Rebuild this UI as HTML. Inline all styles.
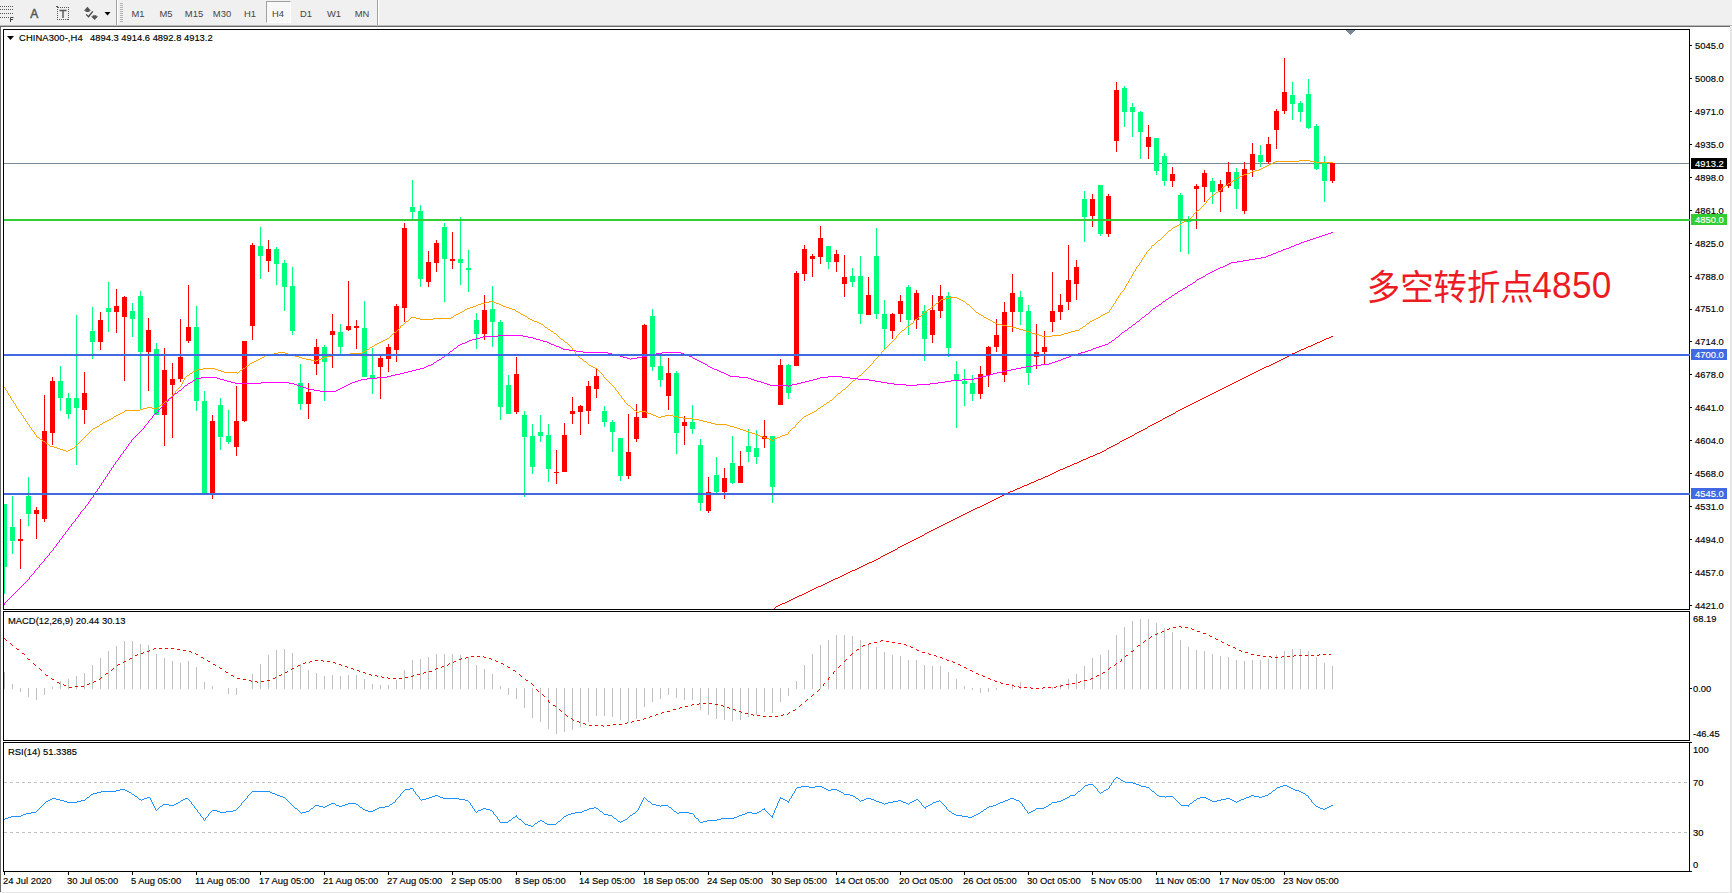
<!DOCTYPE html>
<html><head><meta charset="utf-8"><title>CHINA300 H4</title>
<style>
html,body{margin:0;padding:0;background:#fff;}
body{width:1732px;height:893px;position:relative;overflow:hidden;font-family:"Liberation Sans", sans-serif;}
.t{position:absolute;white-space:nowrap;font-family:"Liberation Sans", sans-serif;}
.b{-webkit-text-stroke:0.15px currentColor;}
.ln{position:absolute;}
#tb{position:absolute;left:0;top:0;width:1732px;height:25px;background:#f0f0f0;}
</style></head><body>
<div id="tb"></div>
<div class="ln" style="left:0;top:25px;width:1732px;height:1px;background:#b9b9b9"></div>
<div class="ln" style="left:0;top:26px;width:1730px;height:1px;background:#6a6a6a"></div>
<div class="ln" style="left:0;top:26px;width:1px;height:867px;background:#696969"></div>
<div class="ln" style="left:1730px;top:27px;width:2px;height:866px;background:#e6e6e6"></div>
<div class="ln" style="left:0;top:891.5px;width:1732px;height:2px;background:#e6e6e6"></div>
<div class="ln" style="left:116px;top:0;width:1px;height:25px;background:#a0a0a0"></div>
<div class="ln" style="left:117px;top:0;width:1px;height:25px;background:#fff"></div>
<div class="ln" style="left:377px;top:0;width:1px;height:25px;background:#a0a0a0"></div>
<div class="ln" style="left:378px;top:0;width:1px;height:25px;background:#fff"></div>
<div class="ln" style="left:120px;top:3px;width:3px;height:19px;background:repeating-linear-gradient(to bottom,#b4b4b4 0,#b4b4b4 1px,#f0f0f0 1px,#f0f0f0 2px)"></div>
<div class="ln" style="left:266px;top:1px;width:25px;height:22px;background:#f8f8f8;border-left:1px solid #a0a0a0;border-top:1px solid #a0a0a0;border-right:1px solid #fff;border-bottom:1px solid #fff;box-sizing:border-box"></div>
<div class="t tf" style="left:124px;top:8px;width:28px;text-align:center;font-size:9.7px;line-height:11px;color:#444;transform:scaleX(0.969)">M1</div>
<div class="t tf" style="left:152px;top:8px;width:28px;text-align:center;font-size:9.7px;line-height:11px;color:#444;transform:scaleX(0.969)">M5</div>
<div class="t tf" style="left:180px;top:8px;width:28px;text-align:center;font-size:9.7px;line-height:11px;color:#444;transform:scaleX(0.969)">M15</div>
<div class="t tf" style="left:208px;top:8px;width:28px;text-align:center;font-size:9.7px;line-height:11px;color:#444;transform:scaleX(0.969)">M30</div>
<div class="t tf" style="left:236px;top:8px;width:28px;text-align:center;font-size:9.7px;line-height:11px;color:#444;transform:scaleX(0.969)">H1</div>
<div class="t tf" style="left:264px;top:8px;width:28px;text-align:center;font-size:9.7px;line-height:11px;color:#444;transform:scaleX(0.969)">H4</div>
<div class="t tf" style="left:292px;top:8px;width:28px;text-align:center;font-size:9.7px;line-height:11px;color:#444;transform:scaleX(0.969)">D1</div>
<div class="t tf" style="left:320px;top:8px;width:28px;text-align:center;font-size:9.7px;line-height:11px;color:#444;transform:scaleX(0.969)">W1</div>
<div class="t tf" style="left:348px;top:8px;width:28px;text-align:center;font-size:9.7px;line-height:11px;color:#444;transform:scaleX(0.969)">MN</div>
<svg width="116" height="25" viewBox="0 0 116 25" style="position:absolute;left:0;top:0">
<g stroke="#555" stroke-width="1" stroke-dasharray="1 1" shape-rendering="crispEdges">
<line x1="0" y1="6.5" x2="13" y2="6.5"/><line x1="0" y1="9.5" x2="13" y2="9.5"/><line x1="0" y1="13.5" x2="13" y2="13.5"/><line x1="0" y1="17.5" x2="10" y2="17.5"/>
</g>
<path d="M10.5 22V17.5H13.5M10.5 19.5H13" stroke="#444" stroke-width="1" fill="none"/>
<rect x="57.5" y="7.5" width="11" height="12" fill="none" stroke="#555" stroke-dasharray="1 1" shape-rendering="crispEdges"/>
<path d="M59.5 10.5H66.5M63 10.5V18" stroke="#555" stroke-width="1.4" fill="none"/>
<polygon points="87.4,6.8 91,10.7 89.4,10.7 89.4,11.9 85.6,11.9 85.6,10.7 83.9,10.7" fill="#555"/>
<polygon points="94.6,20 98.2,16.3 96.4,16.3 96.4,15.2 92.8,15.2 92.8,16.3 91,16.3" fill="#555"/>
<path d="M86.2 14.4L88.5 16.7L92.8 11.3" stroke="#444" stroke-width="1.3" fill="none"/>
<rect x="56" y="6" width="2" height="1" fill="#555"/><rect x="57" y="7" width="2" height="1" fill="#555"/>
<polygon points="104.5,12 110.5,12 107.5,15.5" fill="#000"/>
</svg>
<div class="t" style="left:30.3px;top:7.5px;font-size:12px;line-height:13px;color:#555;-webkit-text-stroke:0.45px #555">A</div>
<svg width="1732" height="893" viewBox="0 0 1732 893" style="position:absolute;left:0;top:0" shape-rendering="crispEdges">
<defs><clipPath id="cm"><rect x="4" y="30" width="1685" height="579"/></clipPath></defs>
<rect x="3.5" y="29.5" width="1686" height="580" fill="none" stroke="#000" stroke-width="1"/>
<rect x="3.5" y="611.5" width="1686" height="129" fill="none" stroke="#000" stroke-width="1"/>
<rect x="3.5" y="742.5" width="1686" height="129" fill="none" stroke="#000" stroke-width="1"/>
<rect x="4" y="163" width="1685" height="1" fill="#778899"/>
<g clip-path="url(#cm)">
<rect x="4" y="504" width="1" height="90" fill="#00ff7f"/>
<rect x="2" y="504" width="5" height="63" fill="#00ff7f"/>
<rect x="12" y="496" width="1" height="58" fill="#00ff7f"/>
<rect x="10" y="527" width="5" height="14" fill="#00ff7f"/>
<rect x="20" y="519" width="1" height="50" fill="#ff0000"/>
<rect x="18" y="539" width="5" height="2" fill="#ff0000"/>
<rect x="28" y="477" width="1" height="49" fill="#00ff7f"/>
<rect x="26" y="496" width="5" height="18" fill="#00ff7f"/>
<rect x="36" y="507" width="1" height="32" fill="#ff0000"/>
<rect x="34" y="510" width="5" height="4" fill="#ff0000"/>
<rect x="44" y="395" width="1" height="127" fill="#ff0000"/>
<rect x="42" y="431" width="5" height="88" fill="#ff0000"/>
<rect x="52" y="377" width="1" height="68" fill="#ff0000"/>
<rect x="50" y="381" width="5" height="52" fill="#ff0000"/>
<rect x="60" y="366" width="1" height="45" fill="#00ff7f"/>
<rect x="58" y="381" width="5" height="17" fill="#00ff7f"/>
<rect x="68" y="393" width="1" height="26" fill="#00ff7f"/>
<rect x="66" y="398" width="5" height="16" fill="#00ff7f"/>
<rect x="76" y="315" width="1" height="150" fill="#00ff7f"/>
<rect x="74" y="398" width="5" height="10" fill="#00ff7f"/>
<rect x="84" y="372" width="1" height="52" fill="#ff0000"/>
<rect x="82" y="393" width="5" height="17" fill="#ff0000"/>
<rect x="92" y="307" width="1" height="52" fill="#00ff7f"/>
<rect x="90" y="331" width="5" height="11" fill="#00ff7f"/>
<rect x="100" y="312" width="1" height="38" fill="#ff0000"/>
<rect x="98" y="320" width="5" height="22" fill="#ff0000"/>
<rect x="108" y="282" width="1" height="50" fill="#00ff7f"/>
<rect x="106" y="308" width="5" height="4" fill="#00ff7f"/>
<rect x="116" y="289" width="1" height="44" fill="#ff0000"/>
<rect x="114" y="306" width="5" height="6" fill="#ff0000"/>
<rect x="124" y="296" width="1" height="85" fill="#ff0000"/>
<rect x="122" y="297" width="5" height="20" fill="#ff0000"/>
<rect x="132" y="303" width="1" height="34" fill="#00ff7f"/>
<rect x="130" y="311" width="5" height="8" fill="#00ff7f"/>
<rect x="140" y="291" width="1" height="118" fill="#00ff7f"/>
<rect x="138" y="296" width="5" height="56" fill="#00ff7f"/>
<rect x="148" y="318" width="1" height="73" fill="#ff0000"/>
<rect x="146" y="330" width="5" height="22" fill="#ff0000"/>
<rect x="156" y="343" width="1" height="72" fill="#00ff7f"/>
<rect x="154" y="349" width="5" height="66" fill="#00ff7f"/>
<rect x="164" y="348" width="1" height="98" fill="#ff0000"/>
<rect x="162" y="370" width="5" height="45" fill="#ff0000"/>
<rect x="172" y="363" width="1" height="75" fill="#ff0000"/>
<rect x="170" y="379" width="5" height="6" fill="#ff0000"/>
<rect x="180" y="319" width="1" height="63" fill="#ff0000"/>
<rect x="178" y="357" width="5" height="22" fill="#ff0000"/>
<rect x="188" y="285" width="1" height="58" fill="#ff0000"/>
<rect x="186" y="327" width="5" height="14" fill="#ff0000"/>
<rect x="196" y="306" width="1" height="105" fill="#00ff7f"/>
<rect x="194" y="327" width="5" height="74" fill="#00ff7f"/>
<rect x="204" y="391" width="1" height="102" fill="#00ff7f"/>
<rect x="202" y="401" width="5" height="92" fill="#00ff7f"/>
<rect x="212" y="415" width="1" height="84" fill="#ff0000"/>
<rect x="210" y="421" width="5" height="72" fill="#ff0000"/>
<rect x="220" y="398" width="1" height="52" fill="#00ff7f"/>
<rect x="218" y="405" width="5" height="32" fill="#00ff7f"/>
<rect x="228" y="410" width="1" height="34" fill="#00ff7f"/>
<rect x="226" y="436" width="5" height="6" fill="#00ff7f"/>
<rect x="236" y="386" width="1" height="70" fill="#ff0000"/>
<rect x="234" y="421" width="5" height="26" fill="#ff0000"/>
<rect x="244" y="341" width="1" height="81" fill="#ff0000"/>
<rect x="242" y="341" width="5" height="80" fill="#ff0000"/>
<rect x="252" y="243" width="1" height="97" fill="#ff0000"/>
<rect x="250" y="245" width="5" height="81" fill="#ff0000"/>
<rect x="260" y="227" width="1" height="52" fill="#00ff7f"/>
<rect x="258" y="246" width="5" height="10" fill="#00ff7f"/>
<rect x="268" y="240" width="1" height="32" fill="#ff0000"/>
<rect x="266" y="249" width="5" height="12" fill="#ff0000"/>
<rect x="276" y="247" width="1" height="38" fill="#00ff7f"/>
<rect x="274" y="249" width="5" height="15" fill="#00ff7f"/>
<rect x="284" y="260" width="1" height="51" fill="#00ff7f"/>
<rect x="282" y="263" width="5" height="24" fill="#00ff7f"/>
<rect x="292" y="267" width="1" height="68" fill="#00ff7f"/>
<rect x="290" y="286" width="5" height="45" fill="#00ff7f"/>
<rect x="300" y="364" width="1" height="46" fill="#00ff7f"/>
<rect x="298" y="383" width="5" height="21" fill="#00ff7f"/>
<rect x="308" y="383" width="1" height="36" fill="#ff0000"/>
<rect x="306" y="392" width="5" height="12" fill="#ff0000"/>
<rect x="316" y="339" width="1" height="36" fill="#ff0000"/>
<rect x="314" y="347" width="5" height="17" fill="#ff0000"/>
<rect x="324" y="345" width="1" height="56" fill="#00ff7f"/>
<rect x="322" y="347" width="5" height="15" fill="#00ff7f"/>
<rect x="332" y="314" width="1" height="54" fill="#ff0000"/>
<rect x="330" y="331" width="5" height="4" fill="#ff0000"/>
<rect x="340" y="324" width="1" height="30" fill="#00ff7f"/>
<rect x="338" y="332" width="5" height="15" fill="#00ff7f"/>
<rect x="348" y="281" width="1" height="50" fill="#ff0000"/>
<rect x="346" y="326" width="5" height="4" fill="#ff0000"/>
<rect x="356" y="320" width="1" height="29" fill="#ff0000"/>
<rect x="354" y="326" width="5" height="2" fill="#ff0000"/>
<rect x="364" y="301" width="1" height="76" fill="#00ff7f"/>
<rect x="362" y="328" width="5" height="49" fill="#00ff7f"/>
<rect x="372" y="348" width="1" height="46" fill="#00ff7f"/>
<rect x="370" y="375" width="5" height="4" fill="#00ff7f"/>
<rect x="380" y="356" width="1" height="43" fill="#ff0000"/>
<rect x="378" y="358" width="5" height="9" fill="#ff0000"/>
<rect x="388" y="344" width="1" height="28" fill="#ff0000"/>
<rect x="386" y="347" width="5" height="12" fill="#ff0000"/>
<rect x="396" y="304" width="1" height="58" fill="#ff0000"/>
<rect x="394" y="306" width="5" height="44" fill="#ff0000"/>
<rect x="404" y="223" width="1" height="99" fill="#ff0000"/>
<rect x="402" y="228" width="5" height="80" fill="#ff0000"/>
<rect x="412" y="180" width="1" height="39" fill="#00ff7f"/>
<rect x="410" y="207" width="5" height="5" fill="#00ff7f"/>
<rect x="420" y="205" width="1" height="82" fill="#00ff7f"/>
<rect x="418" y="211" width="5" height="68" fill="#00ff7f"/>
<rect x="428" y="251" width="1" height="36" fill="#ff0000"/>
<rect x="426" y="262" width="5" height="20" fill="#ff0000"/>
<rect x="436" y="240" width="1" height="32" fill="#ff0000"/>
<rect x="434" y="243" width="5" height="20" fill="#ff0000"/>
<rect x="444" y="223" width="1" height="79" fill="#00ff7f"/>
<rect x="442" y="227" width="5" height="32" fill="#00ff7f"/>
<rect x="452" y="232" width="1" height="37" fill="#ff0000"/>
<rect x="450" y="259" width="5" height="2" fill="#ff0000"/>
<rect x="460" y="217" width="1" height="68" fill="#00ff7f"/>
<rect x="458" y="259" width="5" height="4" fill="#00ff7f"/>
<rect x="468" y="250" width="1" height="42" fill="#00ff7f"/>
<rect x="466" y="268" width="5" height="2" fill="#00ff7f"/>
<rect x="476" y="313" width="1" height="36" fill="#00ff7f"/>
<rect x="474" y="320" width="5" height="14" fill="#00ff7f"/>
<rect x="484" y="295" width="1" height="45" fill="#ff0000"/>
<rect x="482" y="310" width="5" height="24" fill="#ff0000"/>
<rect x="492" y="286" width="1" height="61" fill="#00ff7f"/>
<rect x="490" y="309" width="5" height="13" fill="#00ff7f"/>
<rect x="500" y="320" width="1" height="100" fill="#00ff7f"/>
<rect x="498" y="322" width="5" height="85" fill="#00ff7f"/>
<rect x="508" y="375" width="1" height="39" fill="#00ff7f"/>
<rect x="506" y="385" width="5" height="29" fill="#00ff7f"/>
<rect x="516" y="357" width="1" height="57" fill="#ff0000"/>
<rect x="514" y="374" width="5" height="38" fill="#ff0000"/>
<rect x="524" y="411" width="1" height="86" fill="#00ff7f"/>
<rect x="522" y="415" width="5" height="22" fill="#00ff7f"/>
<rect x="532" y="424" width="1" height="50" fill="#00ff7f"/>
<rect x="530" y="436" width="5" height="31" fill="#00ff7f"/>
<rect x="540" y="415" width="1" height="27" fill="#00ff7f"/>
<rect x="538" y="432" width="5" height="4" fill="#00ff7f"/>
<rect x="548" y="424" width="1" height="58" fill="#00ff7f"/>
<rect x="546" y="435" width="5" height="34" fill="#00ff7f"/>
<rect x="556" y="450" width="1" height="34" fill="#ff0000"/>
<rect x="554" y="472" width="5" height="1" fill="#ff0000"/>
<rect x="564" y="423" width="1" height="49" fill="#ff0000"/>
<rect x="562" y="435" width="5" height="37" fill="#ff0000"/>
<rect x="572" y="397" width="1" height="27" fill="#ff0000"/>
<rect x="570" y="411" width="5" height="3" fill="#ff0000"/>
<rect x="580" y="405" width="1" height="30" fill="#ff0000"/>
<rect x="578" y="406" width="5" height="6" fill="#ff0000"/>
<rect x="588" y="381" width="1" height="43" fill="#ff0000"/>
<rect x="586" y="386" width="5" height="25" fill="#ff0000"/>
<rect x="596" y="368" width="1" height="30" fill="#ff0000"/>
<rect x="594" y="376" width="5" height="13" fill="#ff0000"/>
<rect x="604" y="406" width="1" height="21" fill="#00ff7f"/>
<rect x="602" y="411" width="5" height="11" fill="#00ff7f"/>
<rect x="612" y="420" width="1" height="32" fill="#00ff7f"/>
<rect x="610" y="422" width="5" height="10" fill="#00ff7f"/>
<rect x="620" y="438" width="1" height="43" fill="#00ff7f"/>
<rect x="618" y="438" width="5" height="38" fill="#00ff7f"/>
<rect x="628" y="414" width="1" height="65" fill="#ff0000"/>
<rect x="626" y="452" width="5" height="24" fill="#ff0000"/>
<rect x="636" y="404" width="1" height="38" fill="#ff0000"/>
<rect x="634" y="417" width="5" height="22" fill="#ff0000"/>
<rect x="644" y="324" width="1" height="94" fill="#ff0000"/>
<rect x="642" y="325" width="5" height="93" fill="#ff0000"/>
<rect x="652" y="309" width="1" height="62" fill="#00ff7f"/>
<rect x="650" y="316" width="5" height="51" fill="#00ff7f"/>
<rect x="660" y="356" width="1" height="31" fill="#00ff7f"/>
<rect x="658" y="366" width="5" height="14" fill="#00ff7f"/>
<rect x="668" y="358" width="1" height="52" fill="#ff0000"/>
<rect x="666" y="373" width="5" height="23" fill="#ff0000"/>
<rect x="676" y="371" width="1" height="83" fill="#00ff7f"/>
<rect x="674" y="373" width="5" height="60" fill="#00ff7f"/>
<rect x="684" y="416" width="1" height="29" fill="#ff0000"/>
<rect x="682" y="422" width="5" height="4" fill="#ff0000"/>
<rect x="692" y="405" width="1" height="29" fill="#00ff7f"/>
<rect x="690" y="422" width="5" height="7" fill="#00ff7f"/>
<rect x="700" y="439" width="1" height="72" fill="#00ff7f"/>
<rect x="698" y="445" width="5" height="58" fill="#00ff7f"/>
<rect x="708" y="477" width="1" height="36" fill="#ff0000"/>
<rect x="706" y="492" width="5" height="19" fill="#ff0000"/>
<rect x="716" y="457" width="1" height="36" fill="#00ff7f"/>
<rect x="714" y="475" width="5" height="17" fill="#00ff7f"/>
<rect x="724" y="468" width="1" height="31" fill="#ff0000"/>
<rect x="722" y="478" width="5" height="14" fill="#ff0000"/>
<rect x="732" y="436" width="1" height="48" fill="#00ff7f"/>
<rect x="730" y="463" width="5" height="20" fill="#00ff7f"/>
<rect x="740" y="451" width="1" height="32" fill="#ff0000"/>
<rect x="738" y="466" width="5" height="17" fill="#ff0000"/>
<rect x="748" y="429" width="1" height="33" fill="#00ff7f"/>
<rect x="746" y="446" width="5" height="6" fill="#00ff7f"/>
<rect x="756" y="430" width="1" height="34" fill="#00ff7f"/>
<rect x="754" y="448" width="5" height="9" fill="#00ff7f"/>
<rect x="764" y="420" width="1" height="28" fill="#ff0000"/>
<rect x="762" y="436" width="5" height="3" fill="#ff0000"/>
<rect x="772" y="436" width="1" height="67" fill="#00ff7f"/>
<rect x="770" y="436" width="5" height="51" fill="#00ff7f"/>
<rect x="780" y="359" width="1" height="46" fill="#ff0000"/>
<rect x="778" y="365" width="5" height="40" fill="#ff0000"/>
<rect x="788" y="364" width="1" height="35" fill="#00ff7f"/>
<rect x="786" y="365" width="5" height="28" fill="#00ff7f"/>
<rect x="796" y="271" width="1" height="95" fill="#ff0000"/>
<rect x="794" y="273" width="5" height="93" fill="#ff0000"/>
<rect x="804" y="245" width="1" height="36" fill="#ff0000"/>
<rect x="802" y="249" width="5" height="25" fill="#ff0000"/>
<rect x="812" y="254" width="1" height="23" fill="#ff0000"/>
<rect x="810" y="256" width="5" height="3" fill="#ff0000"/>
<rect x="820" y="226" width="1" height="38" fill="#ff0000"/>
<rect x="818" y="238" width="5" height="19" fill="#ff0000"/>
<rect x="828" y="246" width="1" height="23" fill="#00ff7f"/>
<rect x="826" y="246" width="5" height="16" fill="#00ff7f"/>
<rect x="836" y="250" width="1" height="22" fill="#ff0000"/>
<rect x="834" y="254" width="5" height="8" fill="#ff0000"/>
<rect x="844" y="255" width="1" height="42" fill="#ff0000"/>
<rect x="842" y="277" width="5" height="7" fill="#ff0000"/>
<rect x="852" y="268" width="1" height="19" fill="#00ff7f"/>
<rect x="850" y="276" width="5" height="6" fill="#00ff7f"/>
<rect x="860" y="256" width="1" height="68" fill="#00ff7f"/>
<rect x="858" y="276" width="5" height="38" fill="#00ff7f"/>
<rect x="868" y="277" width="1" height="38" fill="#ff0000"/>
<rect x="866" y="295" width="5" height="20" fill="#ff0000"/>
<rect x="876" y="228" width="1" height="91" fill="#00ff7f"/>
<rect x="874" y="256" width="5" height="58" fill="#00ff7f"/>
<rect x="884" y="300" width="1" height="49" fill="#00ff7f"/>
<rect x="882" y="314" width="5" height="15" fill="#00ff7f"/>
<rect x="892" y="313" width="1" height="26" fill="#ff0000"/>
<rect x="890" y="314" width="5" height="17" fill="#ff0000"/>
<rect x="900" y="295" width="1" height="27" fill="#ff0000"/>
<rect x="898" y="301" width="5" height="13" fill="#ff0000"/>
<rect x="908" y="285" width="1" height="50" fill="#00ff7f"/>
<rect x="906" y="287" width="5" height="33" fill="#00ff7f"/>
<rect x="916" y="290" width="1" height="39" fill="#ff0000"/>
<rect x="914" y="293" width="5" height="27" fill="#ff0000"/>
<rect x="924" y="305" width="1" height="56" fill="#00ff7f"/>
<rect x="922" y="311" width="5" height="28" fill="#00ff7f"/>
<rect x="932" y="295" width="1" height="48" fill="#ff0000"/>
<rect x="930" y="310" width="5" height="25" fill="#ff0000"/>
<rect x="940" y="285" width="1" height="33" fill="#ff0000"/>
<rect x="938" y="296" width="5" height="15" fill="#ff0000"/>
<rect x="948" y="292" width="1" height="65" fill="#00ff7f"/>
<rect x="946" y="296" width="5" height="52" fill="#00ff7f"/>
<rect x="956" y="361" width="1" height="67" fill="#00ff7f"/>
<rect x="954" y="374" width="5" height="7" fill="#00ff7f"/>
<rect x="964" y="369" width="1" height="37" fill="#00ff7f"/>
<rect x="962" y="381" width="5" height="3" fill="#00ff7f"/>
<rect x="972" y="375" width="1" height="26" fill="#00ff7f"/>
<rect x="970" y="383" width="5" height="11" fill="#00ff7f"/>
<rect x="980" y="366" width="1" height="33" fill="#ff0000"/>
<rect x="978" y="374" width="5" height="20" fill="#ff0000"/>
<rect x="988" y="346" width="1" height="41" fill="#ff0000"/>
<rect x="986" y="347" width="5" height="28" fill="#ff0000"/>
<rect x="996" y="319" width="1" height="33" fill="#ff0000"/>
<rect x="994" y="335" width="5" height="12" fill="#ff0000"/>
<rect x="1004" y="302" width="1" height="80" fill="#ff0000"/>
<rect x="1002" y="312" width="5" height="63" fill="#ff0000"/>
<rect x="1012" y="274" width="1" height="58" fill="#ff0000"/>
<rect x="1010" y="293" width="5" height="19" fill="#ff0000"/>
<rect x="1020" y="291" width="1" height="34" fill="#00ff7f"/>
<rect x="1018" y="297" width="5" height="15" fill="#00ff7f"/>
<rect x="1028" y="305" width="1" height="80" fill="#00ff7f"/>
<rect x="1026" y="311" width="5" height="62" fill="#00ff7f"/>
<rect x="1036" y="324" width="1" height="45" fill="#ff0000"/>
<rect x="1034" y="352" width="5" height="5" fill="#ff0000"/>
<rect x="1044" y="331" width="1" height="33" fill="#ff0000"/>
<rect x="1042" y="347" width="5" height="5" fill="#ff0000"/>
<rect x="1052" y="272" width="1" height="60" fill="#ff0000"/>
<rect x="1050" y="311" width="5" height="11" fill="#ff0000"/>
<rect x="1060" y="294" width="1" height="26" fill="#ff0000"/>
<rect x="1058" y="305" width="5" height="7" fill="#ff0000"/>
<rect x="1068" y="245" width="1" height="65" fill="#ff0000"/>
<rect x="1066" y="280" width="5" height="22" fill="#ff0000"/>
<rect x="1076" y="260" width="1" height="40" fill="#ff0000"/>
<rect x="1074" y="267" width="5" height="17" fill="#ff0000"/>
<rect x="1084" y="191" width="1" height="51" fill="#00ff7f"/>
<rect x="1082" y="199" width="5" height="18" fill="#00ff7f"/>
<rect x="1092" y="194" width="1" height="33" fill="#ff0000"/>
<rect x="1090" y="199" width="5" height="17" fill="#ff0000"/>
<rect x="1100" y="185" width="1" height="51" fill="#00ff7f"/>
<rect x="1098" y="185" width="5" height="49" fill="#00ff7f"/>
<rect x="1108" y="194" width="1" height="43" fill="#ff0000"/>
<rect x="1106" y="196" width="5" height="38" fill="#ff0000"/>
<rect x="1116" y="82" width="1" height="70" fill="#ff0000"/>
<rect x="1114" y="90" width="5" height="51" fill="#ff0000"/>
<rect x="1124" y="86" width="1" height="41" fill="#00ff7f"/>
<rect x="1122" y="88" width="5" height="24" fill="#00ff7f"/>
<rect x="1132" y="103" width="1" height="34" fill="#00ff7f"/>
<rect x="1130" y="107" width="5" height="5" fill="#00ff7f"/>
<rect x="1140" y="111" width="1" height="48" fill="#00ff7f"/>
<rect x="1138" y="112" width="5" height="20" fill="#00ff7f"/>
<rect x="1148" y="125" width="1" height="34" fill="#ff0000"/>
<rect x="1146" y="137" width="5" height="10" fill="#ff0000"/>
<rect x="1156" y="138" width="1" height="37" fill="#00ff7f"/>
<rect x="1154" y="138" width="5" height="33" fill="#00ff7f"/>
<rect x="1164" y="153" width="1" height="33" fill="#00ff7f"/>
<rect x="1162" y="156" width="5" height="25" fill="#00ff7f"/>
<rect x="1172" y="167" width="1" height="20" fill="#ff0000"/>
<rect x="1170" y="174" width="5" height="7" fill="#ff0000"/>
<rect x="1180" y="193" width="1" height="59" fill="#00ff7f"/>
<rect x="1178" y="195" width="5" height="25" fill="#00ff7f"/>
<rect x="1188" y="216" width="1" height="38" fill="#00ff7f"/>
<rect x="1186" y="219" width="5" height="3" fill="#00ff7f"/>
<rect x="1196" y="184" width="1" height="45" fill="#ff0000"/>
<rect x="1194" y="186" width="5" height="3" fill="#ff0000"/>
<rect x="1204" y="170" width="1" height="32" fill="#ff0000"/>
<rect x="1202" y="173" width="5" height="14" fill="#ff0000"/>
<rect x="1212" y="178" width="1" height="26" fill="#00ff7f"/>
<rect x="1210" y="181" width="5" height="11" fill="#00ff7f"/>
<rect x="1220" y="180" width="1" height="32" fill="#ff0000"/>
<rect x="1218" y="184" width="5" height="8" fill="#ff0000"/>
<rect x="1228" y="162" width="1" height="26" fill="#ff0000"/>
<rect x="1226" y="172" width="5" height="14" fill="#ff0000"/>
<rect x="1236" y="168" width="1" height="41" fill="#00ff7f"/>
<rect x="1234" y="172" width="5" height="17" fill="#00ff7f"/>
<rect x="1244" y="162" width="1" height="52" fill="#ff0000"/>
<rect x="1242" y="169" width="5" height="42" fill="#ff0000"/>
<rect x="1252" y="143" width="1" height="34" fill="#ff0000"/>
<rect x="1250" y="154" width="5" height="16" fill="#ff0000"/>
<rect x="1260" y="145" width="1" height="22" fill="#00ff7f"/>
<rect x="1258" y="155" width="5" height="7" fill="#00ff7f"/>
<rect x="1268" y="137" width="1" height="27" fill="#ff0000"/>
<rect x="1266" y="144" width="5" height="18" fill="#ff0000"/>
<rect x="1276" y="109" width="1" height="40" fill="#ff0000"/>
<rect x="1274" y="111" width="5" height="19" fill="#ff0000"/>
<rect x="1284" y="58" width="1" height="56" fill="#ff0000"/>
<rect x="1282" y="92" width="5" height="19" fill="#ff0000"/>
<rect x="1292" y="82" width="1" height="38" fill="#00ff7f"/>
<rect x="1290" y="95" width="5" height="9" fill="#00ff7f"/>
<rect x="1300" y="101" width="1" height="21" fill="#00ff7f"/>
<rect x="1298" y="103" width="5" height="9" fill="#00ff7f"/>
<rect x="1308" y="79" width="1" height="50" fill="#00ff7f"/>
<rect x="1306" y="94" width="5" height="34" fill="#00ff7f"/>
<rect x="1316" y="124" width="1" height="46" fill="#00ff7f"/>
<rect x="1314" y="126" width="5" height="43" fill="#00ff7f"/>
<rect x="1324" y="156" width="1" height="46" fill="#00ff7f"/>
<rect x="1322" y="163" width="5" height="18" fill="#00ff7f"/>
<rect x="1332" y="162" width="1" height="21" fill="#ff0000"/>
<rect x="1330" y="163" width="5" height="18" fill="#ff0000"/>
<path d="M1299 160.5h11M1275 161.5h24M1310 161.5h5M1273 162.5h2M1315 162.5h18M1271 163.5h2M1269 164.5h2M1267 165.5h2M1265 166.5h2M1263 167.5h2M1261 168.5h2M1259 169.5h2M1255 170.5h4M1252 171.5h3M1250 172.5h2M1247 173.5h3M1244 174.5h3M1242 175.5h2M1240 176.5h2M1238 177.5h2M1236 178.5h2M1235 179.5h1M1233 180.5h2M1232 181.5h1M1230 182.5h2M1228 183.5h2M1227 184.5h1M1225 185.5h2M1224 186.5h1M1222 187.5h2M1221 188.5h1M1221 189.5h1M1219 190.5h2M1218 191.5h1M1216 192.5h2M1215 193.5h1M1214 194.5h1M1212 195.5h2M1211 196.5h1M1210 197.5h1M1209 198.5h1M1208 199.5h1M1207 200.5h1M1206 201.5h1M1206 202.5h1M1205 203.5h1M1204 204.5h1M1203 205.5h1M1202 206.5h1M1201 207.5h1M1200 208.5h1M1199 209.5h1M1197 210.5h2M1196 211.5h1M1195 212.5h1M1194 213.5h1M1193 214.5h1M1193 215.5h1M1192 216.5h1M1191 217.5h1M1190 218.5h1M1189 219.5h1M1186 220.5h3M1184 221.5h2M1182 222.5h2M1181 223.5h1M1179 224.5h2M1177 225.5h2M1175 226.5h2M1173 227.5h2M1172 228.5h1M1171 229.5h1M1169 230.5h2M1168 231.5h1M1167 232.5h1M1166 233.5h1M1165 234.5h1M1164 235.5h1M1163 236.5h1M1162 237.5h1M1161 238.5h1M1160 239.5h1M1158 240.5h2M1157 241.5h1M1156 242.5h1M1155 243.5h1M1154 244.5h1M1152 245.5h2M1151 246.5h1M1151 247.5h1M1150 248.5h1M1149 249.5h1M1148 250.5h1M1147 251.5h1M1146 252.5h1M1146 253.5h1M1145 254.5h1M1144 255.5h1M1144 256.5h1M1143 257.5h1M1142 258.5h1M1142 259.5h1M1141 260.5h1M1141 261.5h1M1140 262.5h1M1139 263.5h1M1139 264.5h1M1138 265.5h1M1137 266.5h1M1136 267.5h1M1136 268.5h1M1135 269.5h1M1135 270.5h1M1134 271.5h1M1133 272.5h1M1133 273.5h1M1132 274.5h1M1132 275.5h1M1131 276.5h1M1131 277.5h1M1130 278.5h1M1129 279.5h1M1129 280.5h1M1128 281.5h1M1128 282.5h1M1127 283.5h1M1126 284.5h1M1126 285.5h1M1125 286.5h1M1125 287.5h1M1124 288.5h1M1124 289.5h1M1123 290.5h1M1122 291.5h1M1121 292.5h1M1120 293.5h1M1120 294.5h1M1119 295.5h1M1118 296.5h1M950 297.5h7M1118 297.5h1M945 298.5h5M957 298.5h2M1117 298.5h1M941 299.5h4M959 299.5h2M1116 299.5h1M940 300.5h1M961 300.5h2M1116 300.5h1M489 301.5h5M939 301.5h1M963 301.5h2M1115 301.5h1M485 302.5h4M494 302.5h2M938 302.5h1M965 302.5h1M1115 302.5h1M481 303.5h4M496 303.5h3M936 303.5h2M966 303.5h1M1114 303.5h1M478 304.5h3M499 304.5h2M935 304.5h1M967 304.5h2M1113 304.5h1M476 305.5h2M501 305.5h2M934 305.5h1M969 305.5h1M1113 305.5h1M473 306.5h3M503 306.5h3M932 306.5h2M970 306.5h1M1112 306.5h1M470 307.5h3M506 307.5h3M931 307.5h1M971 307.5h1M1111 307.5h1M467 308.5h3M509 308.5h3M930 308.5h1M972 308.5h1M1111 308.5h1M465 309.5h2M512 309.5h3M928 309.5h2M973 309.5h1M1110 309.5h1M464 310.5h1M515 310.5h1M927 310.5h1M974 310.5h1M1109 310.5h1M462 311.5h2M516 311.5h2M926 311.5h1M975 311.5h1M1109 311.5h1M460 312.5h2M518 312.5h2M924 312.5h2M976 312.5h2M1107 312.5h2M458 313.5h2M520 313.5h1M923 313.5h1M978 313.5h1M1105 313.5h2M456 314.5h2M521 314.5h2M922 314.5h1M979 314.5h2M1103 314.5h2M454 315.5h2M523 315.5h2M921 315.5h1M981 315.5h2M1101 315.5h2M453 316.5h1M525 316.5h2M919 316.5h2M983 316.5h1M1100 316.5h1M411 317.5h5M451 317.5h2M527 317.5h1M918 317.5h1M984 317.5h2M1098 317.5h2M410 318.5h1M416 318.5h4M433 318.5h18M528 318.5h2M917 318.5h1M986 318.5h2M1096 318.5h2M409 319.5h1M420 319.5h13M530 319.5h2M915 319.5h2M988 319.5h2M1094 319.5h2M408 320.5h1M532 320.5h2M914 320.5h1M990 320.5h2M1092 320.5h2M406 321.5h2M534 321.5h3M913 321.5h1M992 321.5h1M1090 321.5h2M405 322.5h1M537 322.5h2M913 322.5h1M993 322.5h2M1089 322.5h1M404 323.5h1M539 323.5h2M911 323.5h2M995 323.5h2M1087 323.5h2M403 324.5h1M541 324.5h2M910 324.5h1M997 324.5h5M1086 324.5h1M401 325.5h2M543 325.5h1M909 325.5h1M1002 325.5h5M1085 325.5h1M400 326.5h1M544 326.5h1M907 326.5h2M1007 326.5h5M1083 326.5h2M400 327.5h1M545 327.5h2M906 327.5h1M1012 327.5h4M1082 327.5h1M399 328.5h1M547 328.5h1M905 328.5h1M1016 328.5h3M1080 328.5h2M398 329.5h1M548 329.5h2M904 329.5h1M1019 329.5h4M1079 329.5h1M397 330.5h1M550 330.5h1M902 330.5h2M1023 330.5h3M1075 330.5h4M396 331.5h1M551 331.5h2M901 331.5h1M1026 331.5h4M1071 331.5h4M394 332.5h2M553 332.5h1M900 332.5h1M1030 332.5h2M1068 332.5h3M393 333.5h1M554 333.5h2M899 333.5h1M1032 333.5h3M1064 333.5h4M392 334.5h1M556 334.5h1M898 334.5h1M1035 334.5h4M1061 334.5h3M391 335.5h1M557 335.5h1M897 335.5h1M1039 335.5h3M1052 335.5h9M390 336.5h1M558 336.5h1M896 336.5h1M1042 336.5h10M389 337.5h1M559 337.5h1M896 337.5h1M387 338.5h2M560 338.5h1M895 338.5h1M385 339.5h2M561 339.5h2M894 339.5h1M383 340.5h2M563 340.5h1M893 340.5h1M381 341.5h2M564 341.5h1M892 341.5h1M379 342.5h2M565 342.5h2M891 342.5h1M377 343.5h2M567 343.5h1M890 343.5h1M375 344.5h2M568 344.5h1M889 344.5h1M374 345.5h1M569 345.5h1M888 345.5h1M372 346.5h2M570 346.5h1M887 346.5h1M370 347.5h2M571 347.5h1M886 347.5h1M369 348.5h1M572 348.5h1M885 348.5h1M367 349.5h2M572 349.5h1M884 349.5h1M365 350.5h2M573 350.5h1M883 350.5h1M363 351.5h2M574 351.5h1M882 351.5h1M278 352.5h7M362 352.5h1M575 352.5h1M881 352.5h1M274 353.5h4M285 353.5h3M350 353.5h12M575 353.5h1M881 353.5h1M269 354.5h5M288 354.5h4M337 354.5h13M576 354.5h1M880 354.5h1M265 355.5h4M292 355.5h3M332 355.5h5M577 355.5h1M879 355.5h1M264 356.5h1M295 356.5h4M327 356.5h5M578 356.5h1M878 356.5h1M262 357.5h2M299 357.5h3M324 357.5h3M579 357.5h1M877 357.5h1M260 358.5h2M302 358.5h4M321 358.5h3M580 358.5h2M876 358.5h1M258 359.5h2M306 359.5h5M318 359.5h3M582 359.5h1M875 359.5h1M256 360.5h2M311 360.5h4M316 360.5h2M583 360.5h1M874 360.5h1M254 361.5h2M315 361.5h1M584 361.5h2M873 361.5h1M252 362.5h2M586 362.5h1M873 362.5h1M250 363.5h2M587 363.5h1M872 363.5h1M249 364.5h1M588 364.5h1M871 364.5h1M248 365.5h1M589 365.5h2M870 365.5h1M246 366.5h2M591 366.5h2M869 366.5h1M245 367.5h1M593 367.5h2M868 367.5h1M203 368.5h12M243 368.5h2M595 368.5h2M867 368.5h1M197 369.5h6M215 369.5h3M242 369.5h1M597 369.5h1M866 369.5h1M195 370.5h2M218 370.5h3M240 370.5h2M598 370.5h1M865 370.5h1M193 371.5h2M221 371.5h3M239 371.5h1M599 371.5h1M864 371.5h1M192 372.5h1M224 372.5h13M238 372.5h1M600 372.5h1M863 372.5h1M190 373.5h2M237 373.5h1M601 373.5h1M862 373.5h1M189 374.5h1M602 374.5h1M861 374.5h1M187 375.5h2M603 375.5h1M859 375.5h2M186 376.5h1M603 376.5h1M858 376.5h1M185 377.5h1M604 377.5h1M857 377.5h1M184 378.5h1M605 378.5h1M856 378.5h1M184 379.5h1M606 379.5h1M855 379.5h1M183 380.5h1M607 380.5h1M853 380.5h2M183 381.5h1M608 381.5h1M852 381.5h1M182 382.5h1M609 382.5h1M851 382.5h1M182 383.5h1M610 383.5h1M850 383.5h1M181 384.5h1M611 384.5h1M849 384.5h1M181 385.5h1M612 385.5h1M848 385.5h1M180 386.5h1M613 386.5h1M847 386.5h1M4 387.5h1M179 387.5h1M614 387.5h1M846 387.5h1M5 388.5h1M178 388.5h1M615 388.5h1M845 388.5h1M5 389.5h1M177 389.5h1M615 389.5h1M843 389.5h2M6 390.5h1M176 390.5h1M616 390.5h1M842 390.5h1M7 391.5h1M175 391.5h1M617 391.5h1M841 391.5h1M7 392.5h1M175 392.5h1M618 392.5h1M840 392.5h1M8 393.5h1M174 393.5h1M618 393.5h1M838 393.5h2M8 394.5h1M173 394.5h1M619 394.5h1M837 394.5h1M9 395.5h1M172 395.5h1M620 395.5h1M836 395.5h1M10 396.5h1M171 396.5h1M621 396.5h1M835 396.5h1M10 397.5h1M170 397.5h1M621 397.5h1M834 397.5h1M11 398.5h1M169 398.5h1M622 398.5h1M833 398.5h1M11 399.5h1M168 399.5h1M623 399.5h1M832 399.5h1M12 400.5h1M167 400.5h1M624 400.5h1M830 400.5h2M13 401.5h1M165 401.5h2M624 401.5h1M829 401.5h1M13 402.5h1M164 402.5h1M625 402.5h1M827 402.5h2M14 403.5h1M163 403.5h1M626 403.5h1M826 403.5h1M15 404.5h1M161 404.5h2M627 404.5h1M824 404.5h2M15 405.5h1M160 405.5h1M628 405.5h2M823 405.5h1M16 406.5h1M159 406.5h1M630 406.5h1M821 406.5h2M16 407.5h1M147 407.5h5M157 407.5h2M631 407.5h1M820 407.5h1M17 408.5h1M143 408.5h4M152 408.5h3M156 408.5h1M632 408.5h1M818 408.5h2M18 409.5h1M140 409.5h3M155 409.5h1M633 409.5h1M817 409.5h1M18 410.5h1M125 410.5h15M634 410.5h2M816 410.5h1M19 411.5h1M124 411.5h1M636 411.5h1M639 411.5h7M814 411.5h2M20 412.5h1M122 412.5h2M637 412.5h2M646 412.5h2M812 412.5h2M21 413.5h1M120 413.5h2M648 413.5h3M810 413.5h2M21 414.5h1M118 414.5h2M651 414.5h2M808 414.5h2M22 415.5h1M116 415.5h2M653 415.5h3M665 415.5h8M806 415.5h2M23 416.5h1M114 416.5h2M656 416.5h2M661 416.5h4M673 416.5h5M804 416.5h2M23 417.5h1M113 417.5h1M658 417.5h3M678 417.5h5M803 417.5h1M24 418.5h1M111 418.5h2M683 418.5h10M802 418.5h1M25 419.5h1M109 419.5h2M693 419.5h6M801 419.5h1M25 420.5h1M107 420.5h2M699 420.5h4M800 420.5h1M26 421.5h1M105 421.5h2M703 421.5h4M799 421.5h1M27 422.5h1M103 422.5h2M707 422.5h4M798 422.5h1M27 423.5h1M102 423.5h1M711 423.5h4M797 423.5h1M28 424.5h1M100 424.5h2M715 424.5h12M796 424.5h1M29 425.5h1M99 425.5h1M727 425.5h3M795 425.5h1M29 426.5h1M97 426.5h2M730 426.5h4M795 426.5h1M30 427.5h1M95 427.5h2M734 427.5h3M793 427.5h2M31 428.5h1M93 428.5h2M737 428.5h3M792 428.5h1M31 429.5h1M92 429.5h1M740 429.5h3M791 429.5h1M32 430.5h1M91 430.5h1M743 430.5h3M790 430.5h1M33 431.5h1M90 431.5h1M746 431.5h3M789 431.5h1M34 432.5h1M89 432.5h1M749 432.5h3M788 432.5h1M34 433.5h1M88 433.5h1M752 433.5h3M788 433.5h1M35 434.5h1M87 434.5h1M755 434.5h3M785 434.5h3M36 435.5h1M86 435.5h1M758 435.5h2M782 435.5h3M36 436.5h1M85 436.5h1M760 436.5h3M780 436.5h2M37 437.5h2M84 437.5h1M763 437.5h3M777 437.5h3M39 438.5h1M83 438.5h1M766 438.5h3M774 438.5h3M40 439.5h2M82 439.5h1M769 439.5h3M773 439.5h1M42 440.5h1M81 440.5h1M772 440.5h1M43 441.5h2M80 441.5h1M45 442.5h1M79 442.5h1M46 443.5h2M78 443.5h1M48 444.5h1M77 444.5h1M49 445.5h1M76 445.5h1M50 446.5h4M75 446.5h1M54 447.5h3M74 447.5h1M57 448.5h3M72 448.5h2M60 449.5h3M70 449.5h2M63 450.5h3M68 450.5h2M66 451.5h2" fill="none" stroke="#ffa500" stroke-width="1"/>
<path d="M1331 232.5h2M1328 233.5h3M1325 234.5h3M1322 235.5h3M1319 236.5h3M1316 237.5h3M1313 238.5h3M1310 239.5h3M1307 240.5h3M1304 241.5h3M1301 242.5h3M1299 243.5h2M1296 244.5h3M1294 245.5h2M1291 246.5h3M1289 247.5h2M1286 248.5h3M1283 249.5h3M1281 250.5h2M1278 251.5h3M1276 252.5h2M1273 253.5h3M1271 254.5h2M1268 255.5h3M1266 256.5h2M1261 257.5h5M1255 258.5h6M1249 259.5h6M1243 260.5h6M1237 261.5h6M1231 262.5h6M1229 263.5h2M1227 264.5h2M1225 265.5h2M1223 266.5h2M1220 267.5h3M1218 268.5h2M1216 269.5h2M1214 270.5h2M1212 271.5h2M1210 272.5h2M1208 273.5h2M1206 274.5h2M1205 275.5h1M1203 276.5h2M1201 277.5h2M1199 278.5h2M1197 279.5h2M1196 280.5h1M1195 281.5h1M1193 282.5h2M1192 283.5h1M1190 284.5h2M1188 285.5h2M1187 286.5h1M1185 287.5h2M1183 288.5h2M1182 289.5h1M1180 290.5h2M1178 291.5h2M1177 292.5h1M1175 293.5h2M1174 294.5h1M1172 295.5h2M1171 296.5h1M1169 297.5h2M1168 298.5h1M1166 299.5h2M1165 300.5h1M1163 301.5h2M1162 302.5h1M1161 303.5h1M1159 304.5h2M1158 305.5h1M1156 306.5h2M1155 307.5h1M1153 308.5h2M1152 309.5h1M1151 310.5h1M1150 311.5h1M1149 312.5h1M1148 313.5h1M1146 314.5h2M1145 315.5h1M1144 316.5h1M1142 317.5h2M1141 318.5h1M1140 319.5h1M1139 320.5h1M1137 321.5h2M1136 322.5h1M1135 323.5h1M1133 324.5h2M1132 325.5h1M1131 326.5h1M1129 327.5h2M1128 328.5h1M1127 329.5h1M1125 330.5h2M1124 331.5h1M1122 332.5h2M1121 333.5h1M1120 334.5h1M498 335.5h25M1119 335.5h1M483 336.5h15M523 336.5h5M1118 336.5h1M480 337.5h3M528 337.5h5M1116 337.5h2M476 338.5h4M533 338.5h3M1115 338.5h1M472 339.5h4M536 339.5h4M1114 339.5h1M469 340.5h3M540 340.5h3M1112 340.5h2M467 341.5h2M543 341.5h4M1111 341.5h1M465 342.5h2M547 342.5h2M1109 342.5h2M462 343.5h3M549 343.5h2M1108 343.5h1M460 344.5h2M551 344.5h3M1105 344.5h3M458 345.5h2M554 345.5h2M1102 345.5h3M457 346.5h1M556 346.5h3M1099 346.5h3M456 347.5h1M559 347.5h2M1096 347.5h3M454 348.5h2M561 348.5h2M1093 348.5h3M453 349.5h1M563 349.5h6M1091 349.5h2M452 350.5h1M569 350.5h7M1088 350.5h3M450 351.5h2M576 351.5h7M1085 351.5h3M449 352.5h1M583 352.5h25M662 352.5h19M1081 352.5h4M448 353.5h1M608 353.5h4M656 353.5h6M681 353.5h3M1078 353.5h3M447 354.5h1M612 354.5h4M651 354.5h5M684 354.5h2M1074 354.5h4M445 355.5h2M616 355.5h4M647 355.5h4M686 355.5h3M1071 355.5h3M444 356.5h1M620 356.5h3M642 356.5h5M689 356.5h3M1069 356.5h2M442 357.5h2M623 357.5h4M637 357.5h5M692 357.5h1M1066 357.5h3M441 358.5h1M627 358.5h3M631 358.5h6M693 358.5h2M1063 358.5h3M439 359.5h2M630 359.5h1M695 359.5h2M1061 359.5h2M437 360.5h2M697 360.5h2M1058 360.5h3M436 361.5h1M699 361.5h2M1055 361.5h3M434 362.5h2M701 362.5h2M1052 362.5h3M433 363.5h1M703 363.5h2M1049 363.5h3M431 364.5h2M705 364.5h2M1041 364.5h8M428 365.5h3M707 365.5h1M1033 365.5h8M426 366.5h2M708 366.5h2M1026 366.5h7M424 367.5h2M710 367.5h2M1021 367.5h5M420 368.5h4M712 368.5h2M1016 368.5h5M416 369.5h4M714 369.5h3M1011 369.5h5M412 370.5h4M717 370.5h2M1006 370.5h5M408 371.5h4M719 371.5h2M1002 371.5h4M404 372.5h4M721 372.5h3M997 372.5h5M400 373.5h4M724 373.5h2M993 373.5h4M395 374.5h5M726 374.5h2M990 374.5h3M391 375.5h4M728 375.5h2M986 375.5h4M387 376.5h4M730 376.5h9M828 376.5h14M982 376.5h4M201 377.5h16M377 377.5h10M739 377.5h9M820 377.5h8M842 377.5h8M978 377.5h4M196 378.5h5M217 378.5h3M367 378.5h10M748 378.5h3M817 378.5h3M850 378.5h8M974 378.5h4M195 379.5h1M220 379.5h4M361 379.5h6M751 379.5h3M813 379.5h4M858 379.5h11M962 379.5h12M193 380.5h2M224 380.5h3M358 380.5h3M754 380.5h3M809 380.5h4M869 380.5h6M951 380.5h11M192 381.5h1M227 381.5h4M355 381.5h3M757 381.5h4M805 381.5h4M875 381.5h6M945 381.5h6M190 382.5h2M231 382.5h4M261 382.5h28M352 382.5h3M761 382.5h3M801 382.5h4M881 382.5h6M938 382.5h7M188 383.5h2M235 383.5h26M289 383.5h5M350 383.5h2M764 383.5h3M797 383.5h4M887 383.5h7M930 383.5h8M187 384.5h1M294 384.5h3M348 384.5h2M767 384.5h3M792 384.5h5M894 384.5h12M917 384.5h13M185 385.5h2M297 385.5h3M346 385.5h2M770 385.5h18M789 385.5h3M906 385.5h11M184 386.5h1M300 386.5h3M344 386.5h2M788 386.5h1M183 387.5h1M303 387.5h3M342 387.5h2M182 388.5h1M306 388.5h3M340 388.5h2M181 389.5h1M309 389.5h5M338 389.5h2M179 390.5h2M314 390.5h6M336 390.5h2M178 391.5h1M320 391.5h16M177 392.5h1M175 393.5h2M174 394.5h1M173 395.5h1M172 396.5h1M171 397.5h1M169 398.5h2M168 399.5h1M168 400.5h1M167 401.5h1M166 402.5h1M165 403.5h1M164 404.5h1M163 405.5h1M162 406.5h1M161 407.5h1M160 408.5h1M159 409.5h1M158 410.5h1M158 411.5h1M157 412.5h1M155 413.5h2M154 414.5h1M153 415.5h1M152 416.5h1M152 417.5h1M151 418.5h1M150 419.5h1M149 420.5h1M148 421.5h1M148 422.5h1M147 423.5h1M146 424.5h1M145 425.5h1M144 426.5h1M144 427.5h1M143 428.5h1M142 429.5h1M141 430.5h1M140 431.5h1M139 432.5h1M138 433.5h1M137 434.5h1M136 435.5h1M135 436.5h1M134 437.5h1M133 438.5h1M132 439.5h1M131 440.5h1M131 441.5h1M130 442.5h1M129 443.5h1M128 444.5h1M128 445.5h1M127 446.5h1M126 447.5h1M126 448.5h1M125 449.5h1M124 450.5h1M123 451.5h1M123 452.5h1M122 453.5h1M121 454.5h1M120 455.5h1M120 456.5h1M119 457.5h1M118 458.5h1M118 459.5h1M117 460.5h1M116 461.5h1M115 462.5h1M115 463.5h1M114 464.5h1M113 465.5h1M113 466.5h1M112 467.5h1M111 468.5h1M111 469.5h1M110 470.5h1M109 471.5h1M109 472.5h1M108 473.5h1M107 474.5h1M107 475.5h1M106 476.5h1M105 477.5h1M105 478.5h1M104 479.5h1M103 480.5h1M103 481.5h1M102 482.5h1M101 483.5h1M101 484.5h1M100 485.5h1M99 486.5h1M99 487.5h1M98 488.5h1M97 489.5h1M97 490.5h1M96 491.5h1M95 492.5h1M95 493.5h1M94 494.5h1M93 495.5h1M93 496.5h1M92 497.5h1M91 498.5h1M90 499.5h1M90 500.5h1M89 501.5h1M88 502.5h1M88 503.5h1M87 504.5h1M86 505.5h1M85 506.5h1M85 507.5h1M84 508.5h1M83 509.5h1M82 510.5h1M81 511.5h1M80 512.5h1M80 513.5h1M79 514.5h1M78 515.5h1M78 516.5h1M77 517.5h1M76 518.5h1M75 519.5h1M75 520.5h1M74 521.5h1M73 522.5h1M72 523.5h1M71 524.5h1M71 525.5h1M70 526.5h1M69 527.5h1M68 528.5h1M68 529.5h1M67 530.5h1M66 531.5h1M65 532.5h1M65 533.5h1M64 534.5h1M63 535.5h1M62 536.5h1M62 537.5h1M61 538.5h1M60 539.5h1M59 540.5h1M59 541.5h1M58 542.5h1M57 543.5h1M56 544.5h1M56 545.5h1M55 546.5h1M54 547.5h1M53 548.5h1M53 549.5h1M52 550.5h1M51 551.5h1M50 552.5h1M49 553.5h1M49 554.5h1M48 555.5h1M47 556.5h1M46 557.5h1M45 558.5h1M44 559.5h1M44 560.5h1M43 561.5h1M42 562.5h1M41 563.5h1M40 564.5h1M39 565.5h1M39 566.5h1M38 567.5h1M37 568.5h1M36 569.5h1M35 570.5h1M34 571.5h1M34 572.5h1M33 573.5h1M32 574.5h1M31 575.5h1M30 576.5h1M29 577.5h1M29 578.5h1M28 579.5h1M27 580.5h1M26 581.5h1M25 582.5h1M24 583.5h1M23 584.5h1M22 585.5h1M21 586.5h1M20 587.5h1M19 588.5h1M18 589.5h1M17 590.5h1M16 591.5h1M15 592.5h1M14 593.5h1M13 594.5h1M12 595.5h1M11 596.5h1M10 597.5h1M9 598.5h1M8 599.5h1M7 600.5h1M6 601.5h1M5 602.5h1M4 603.5h1M4 604.5h1" fill="none" stroke="#ff00ff" stroke-width="1"/>
<path d="M1331 336.5h2M1329 337.5h2M1326 338.5h3M1324 339.5h2M1322 340.5h2M1320 341.5h2M1317 342.5h3M1315 343.5h2M1313 344.5h2M1311 345.5h2M1308 346.5h3M1306 347.5h2M1304 348.5h2M1301 349.5h3M1299 350.5h2M1297 351.5h2M1295 352.5h2M1292 353.5h3M1290 354.5h2M1289 355.5h1M1287 356.5h2M1285 357.5h2M1283 358.5h2M1281 359.5h2M1279 360.5h2M1277 361.5h2M1275 362.5h2M1273 363.5h2M1271 364.5h2M1269 365.5h2M1266 366.5h3M1264 367.5h2M1262 368.5h2M1260 369.5h2M1258 370.5h2M1256 371.5h2M1254 372.5h2M1252 373.5h2M1250 374.5h2M1248 375.5h2M1246 376.5h2M1244 377.5h2M1242 378.5h2M1240 379.5h2M1238 380.5h2M1236 381.5h2M1234 382.5h2M1232 383.5h2M1230 384.5h2M1228 385.5h2M1226 386.5h2M1224 387.5h2M1222 388.5h2M1220 389.5h2M1218 390.5h2M1216 391.5h2M1214 392.5h2M1212 393.5h2M1210 394.5h2M1208 395.5h2M1206 396.5h2M1204 397.5h2M1202 398.5h2M1200 399.5h2M1198 400.5h2M1196 401.5h2M1194 402.5h2M1192 403.5h2M1190 404.5h2M1188 405.5h2M1186 406.5h2M1184 407.5h2M1182 408.5h2M1180 409.5h2M1178 410.5h2M1176 411.5h2M1175 412.5h1M1173 413.5h2M1171 414.5h2M1169 415.5h2M1167 416.5h2M1165 417.5h2M1163 418.5h2M1162 419.5h1M1160 420.5h2M1158 421.5h2M1156 422.5h2M1154 423.5h2M1152 424.5h2M1150 425.5h2M1148 426.5h2M1147 427.5h1M1145 428.5h2M1143 429.5h2M1141 430.5h2M1139 431.5h2M1137 432.5h2M1135 433.5h2M1134 434.5h1M1132 435.5h2M1130 436.5h2M1128 437.5h2M1126 438.5h2M1124 439.5h2M1122 440.5h2M1120 441.5h2M1119 442.5h1M1117 443.5h2M1115 444.5h2M1113 445.5h2M1111 446.5h2M1109 447.5h2M1107 448.5h2M1106 449.5h1M1104 450.5h2M1102 451.5h2M1100 452.5h2M1097 453.5h3M1095 454.5h2M1093 455.5h2M1090 456.5h3M1088 457.5h2M1086 458.5h2M1083 459.5h3M1081 460.5h2M1079 461.5h2M1077 462.5h2M1074 463.5h3M1072 464.5h2M1070 465.5h2M1067 466.5h3M1065 467.5h2M1063 468.5h2M1060 469.5h3M1058 470.5h2M1056 471.5h2M1054 472.5h2M1052 473.5h2M1050 474.5h2M1048 475.5h2M1045 476.5h3M1043 477.5h2M1041 478.5h2M1038 479.5h3M1036 480.5h2M1034 481.5h2M1031 482.5h3M1029 483.5h2M1027 484.5h2M1024 485.5h3M1022 486.5h2M1020 487.5h2M1017 488.5h3M1015 489.5h2M1013 490.5h2M1010 491.5h3M1008 492.5h2M1006 493.5h2M1004 494.5h2M1002 495.5h2M1000 496.5h2M998 497.5h2M996 498.5h2M994 499.5h2M992 500.5h2M990 501.5h2M988 502.5h2M986 503.5h2M984 504.5h2M982 505.5h2M980 506.5h2M977 507.5h3M975 508.5h2M973 509.5h2M971 510.5h2M969 511.5h2M967 512.5h2M965 513.5h2M963 514.5h2M961 515.5h2M959 516.5h2M957 517.5h2M955 518.5h2M953 519.5h2M951 520.5h2M949 521.5h2M947 522.5h2M945 523.5h2M943 524.5h2M941 525.5h2M939 526.5h2M937 527.5h2M935 528.5h2M933 529.5h2M931 530.5h2M929 531.5h2M927 532.5h2M925 533.5h2M924 534.5h1M922 535.5h2M920 536.5h2M918 537.5h2M916 538.5h2M914 539.5h2M912 540.5h2M910 541.5h2M908 542.5h2M906 543.5h2M904 544.5h2M902 545.5h2M900 546.5h2M898 547.5h2M897 548.5h1M895 549.5h2M893 550.5h2M891 551.5h2M889 552.5h2M887 553.5h2M885 554.5h2M883 555.5h2M881 556.5h2M880 557.5h1M878 558.5h2M876 559.5h2M874 560.5h2M872 561.5h2M869 562.5h3M867 563.5h2M865 564.5h2M863 565.5h2M861 566.5h2M859 567.5h2M857 568.5h2M855 569.5h2M852 570.5h3M850 571.5h2M848 572.5h2M846 573.5h2M844 574.5h2M842 575.5h2M840 576.5h2M838 577.5h2M835 578.5h3M833 579.5h2M831 580.5h2M829 581.5h2M827 582.5h2M825 583.5h2M823 584.5h2M821 585.5h2M818 586.5h3M816 587.5h2M814 588.5h2M812 589.5h2M810 590.5h2M808 591.5h2M806 592.5h2M804 593.5h2M802 594.5h2M799 595.5h3M797 596.5h2M795 597.5h2M793 598.5h2M791 599.5h2M789 600.5h2M787 601.5h2M785 602.5h2M782 603.5h3M780 604.5h2M778 605.5h2M776 606.5h2M775 607.5h1M774 608.5h1" fill="none" stroke="#ff0000" stroke-width="1"/>
</g>
<rect x="4" y="219" width="1686" height="2" fill="#32cd32"/>
<rect x="4" y="354" width="1686" height="2" fill="#4169e1"/>
<rect x="4" y="493" width="1686" height="2" fill="#4169e1"/>
<rect x="1346" y="30" width="9" height="1" fill="#778899"/>
<rect x="1347" y="31" width="7" height="1" fill="#778899"/>
<rect x="1348" y="32" width="5" height="1" fill="#778899"/>
<rect x="1349" y="33" width="3" height="1" fill="#778899"/>
<rect x="1350" y="34" width="1" height="1" fill="#778899"/>
<rect x="4" y="672" width="1" height="17" fill="#c0c0c0"/>
<rect x="12" y="684" width="1" height="5" fill="#c0c0c0"/>
<rect x="20" y="688" width="1" height="4" fill="#c0c0c0"/>
<rect x="28" y="688" width="1" height="9" fill="#c0c0c0"/>
<rect x="36" y="688" width="1" height="12" fill="#c0c0c0"/>
<rect x="44" y="688" width="1" height="7" fill="#c0c0c0"/>
<rect x="52" y="687" width="1" height="2" fill="#c0c0c0"/>
<rect x="60" y="681" width="1" height="8" fill="#c0c0c0"/>
<rect x="68" y="679" width="1" height="10" fill="#c0c0c0"/>
<rect x="76" y="676" width="1" height="13" fill="#c0c0c0"/>
<rect x="84" y="673" width="1" height="16" fill="#c0c0c0"/>
<rect x="92" y="665" width="1" height="24" fill="#c0c0c0"/>
<rect x="100" y="658" width="1" height="31" fill="#c0c0c0"/>
<rect x="108" y="651" width="1" height="38" fill="#c0c0c0"/>
<rect x="116" y="646" width="1" height="43" fill="#c0c0c0"/>
<rect x="124" y="641" width="1" height="48" fill="#c0c0c0"/>
<rect x="132" y="641" width="1" height="48" fill="#c0c0c0"/>
<rect x="140" y="644" width="1" height="45" fill="#c0c0c0"/>
<rect x="148" y="645" width="1" height="44" fill="#c0c0c0"/>
<rect x="156" y="654" width="1" height="35" fill="#c0c0c0"/>
<rect x="164" y="658" width="1" height="31" fill="#c0c0c0"/>
<rect x="172" y="661" width="1" height="28" fill="#c0c0c0"/>
<rect x="180" y="663" width="1" height="26" fill="#c0c0c0"/>
<rect x="188" y="661" width="1" height="28" fill="#c0c0c0"/>
<rect x="196" y="667" width="1" height="22" fill="#c0c0c0"/>
<rect x="204" y="682" width="1" height="7" fill="#c0c0c0"/>
<rect x="212" y="686" width="1" height="3" fill="#c0c0c0"/>
<rect x="228" y="688" width="1" height="6" fill="#c0c0c0"/>
<rect x="236" y="688" width="1" height="7" fill="#c0c0c0"/>
<rect x="252" y="674" width="1" height="15" fill="#c0c0c0"/>
<rect x="260" y="664" width="1" height="25" fill="#c0c0c0"/>
<rect x="268" y="655" width="1" height="34" fill="#c0c0c0"/>
<rect x="276" y="650" width="1" height="39" fill="#c0c0c0"/>
<rect x="284" y="649" width="1" height="40" fill="#c0c0c0"/>
<rect x="292" y="653" width="1" height="36" fill="#c0c0c0"/>
<rect x="300" y="664" width="1" height="25" fill="#c0c0c0"/>
<rect x="308" y="670" width="1" height="19" fill="#c0c0c0"/>
<rect x="316" y="673" width="1" height="16" fill="#c0c0c0"/>
<rect x="324" y="676" width="1" height="13" fill="#c0c0c0"/>
<rect x="332" y="675" width="1" height="14" fill="#c0c0c0"/>
<rect x="340" y="676" width="1" height="13" fill="#c0c0c0"/>
<rect x="348" y="675" width="1" height="14" fill="#c0c0c0"/>
<rect x="356" y="675" width="1" height="14" fill="#c0c0c0"/>
<rect x="364" y="679" width="1" height="10" fill="#c0c0c0"/>
<rect x="372" y="684" width="1" height="5" fill="#c0c0c0"/>
<rect x="380" y="685" width="1" height="4" fill="#c0c0c0"/>
<rect x="388" y="685" width="1" height="4" fill="#c0c0c0"/>
<rect x="396" y="680" width="1" height="9" fill="#c0c0c0"/>
<rect x="404" y="670" width="1" height="19" fill="#c0c0c0"/>
<rect x="412" y="660" width="1" height="29" fill="#c0c0c0"/>
<rect x="420" y="659" width="1" height="30" fill="#c0c0c0"/>
<rect x="428" y="657" width="1" height="32" fill="#c0c0c0"/>
<rect x="436" y="654" width="1" height="35" fill="#c0c0c0"/>
<rect x="444" y="654" width="1" height="35" fill="#c0c0c0"/>
<rect x="452" y="654" width="1" height="35" fill="#c0c0c0"/>
<rect x="460" y="655" width="1" height="34" fill="#c0c0c0"/>
<rect x="468" y="657" width="1" height="32" fill="#c0c0c0"/>
<rect x="476" y="665" width="1" height="24" fill="#c0c0c0"/>
<rect x="484" y="669" width="1" height="20" fill="#c0c0c0"/>
<rect x="492" y="674" width="1" height="15" fill="#c0c0c0"/>
<rect x="500" y="686" width="1" height="3" fill="#c0c0c0"/>
<rect x="508" y="688" width="1" height="7" fill="#c0c0c0"/>
<rect x="516" y="688" width="1" height="11" fill="#c0c0c0"/>
<rect x="524" y="688" width="1" height="20" fill="#c0c0c0"/>
<rect x="532" y="688" width="1" height="30" fill="#c0c0c0"/>
<rect x="540" y="688" width="1" height="34" fill="#c0c0c0"/>
<rect x="548" y="688" width="1" height="41" fill="#c0c0c0"/>
<rect x="556" y="688" width="1" height="46" fill="#c0c0c0"/>
<rect x="564" y="688" width="1" height="44" fill="#c0c0c0"/>
<rect x="572" y="688" width="1" height="42" fill="#c0c0c0"/>
<rect x="580" y="688" width="1" height="39" fill="#c0c0c0"/>
<rect x="588" y="688" width="1" height="34" fill="#c0c0c0"/>
<rect x="596" y="688" width="1" height="28" fill="#c0c0c0"/>
<rect x="604" y="688" width="1" height="28" fill="#c0c0c0"/>
<rect x="612" y="688" width="1" height="29" fill="#c0c0c0"/>
<rect x="620" y="688" width="1" height="32" fill="#c0c0c0"/>
<rect x="628" y="688" width="1" height="34" fill="#c0c0c0"/>
<rect x="636" y="688" width="1" height="31" fill="#c0c0c0"/>
<rect x="644" y="688" width="1" height="19" fill="#c0c0c0"/>
<rect x="652" y="688" width="1" height="14" fill="#c0c0c0"/>
<rect x="660" y="688" width="1" height="11" fill="#c0c0c0"/>
<rect x="668" y="688" width="1" height="7" fill="#c0c0c0"/>
<rect x="676" y="688" width="1" height="10" fill="#c0c0c0"/>
<rect x="684" y="688" width="1" height="12" fill="#c0c0c0"/>
<rect x="692" y="688" width="1" height="12" fill="#c0c0c0"/>
<rect x="700" y="688" width="1" height="22" fill="#c0c0c0"/>
<rect x="708" y="688" width="1" height="27" fill="#c0c0c0"/>
<rect x="716" y="688" width="1" height="31" fill="#c0c0c0"/>
<rect x="724" y="688" width="1" height="32" fill="#c0c0c0"/>
<rect x="732" y="688" width="1" height="33" fill="#c0c0c0"/>
<rect x="740" y="688" width="1" height="32" fill="#c0c0c0"/>
<rect x="748" y="688" width="1" height="29" fill="#c0c0c0"/>
<rect x="756" y="688" width="1" height="27" fill="#c0c0c0"/>
<rect x="764" y="688" width="1" height="24" fill="#c0c0c0"/>
<rect x="772" y="688" width="1" height="25" fill="#c0c0c0"/>
<rect x="780" y="688" width="1" height="14" fill="#c0c0c0"/>
<rect x="788" y="688" width="1" height="8" fill="#c0c0c0"/>
<rect x="796" y="681" width="1" height="8" fill="#c0c0c0"/>
<rect x="804" y="665" width="1" height="24" fill="#c0c0c0"/>
<rect x="812" y="654" width="1" height="35" fill="#c0c0c0"/>
<rect x="820" y="645" width="1" height="44" fill="#c0c0c0"/>
<rect x="828" y="640" width="1" height="49" fill="#c0c0c0"/>
<rect x="836" y="635" width="1" height="54" fill="#c0c0c0"/>
<rect x="844" y="635" width="1" height="54" fill="#c0c0c0"/>
<rect x="852" y="636" width="1" height="53" fill="#c0c0c0"/>
<rect x="860" y="640" width="1" height="49" fill="#c0c0c0"/>
<rect x="868" y="644" width="1" height="45" fill="#c0c0c0"/>
<rect x="876" y="647" width="1" height="42" fill="#c0c0c0"/>
<rect x="884" y="652" width="1" height="37" fill="#c0c0c0"/>
<rect x="892" y="655" width="1" height="34" fill="#c0c0c0"/>
<rect x="900" y="656" width="1" height="33" fill="#c0c0c0"/>
<rect x="908" y="660" width="1" height="29" fill="#c0c0c0"/>
<rect x="916" y="660" width="1" height="29" fill="#c0c0c0"/>
<rect x="924" y="665" width="1" height="24" fill="#c0c0c0"/>
<rect x="932" y="666" width="1" height="23" fill="#c0c0c0"/>
<rect x="940" y="666" width="1" height="23" fill="#c0c0c0"/>
<rect x="948" y="672" width="1" height="17" fill="#c0c0c0"/>
<rect x="956" y="679" width="1" height="10" fill="#c0c0c0"/>
<rect x="964" y="686" width="1" height="3" fill="#c0c0c0"/>
<rect x="972" y="688" width="1" height="2" fill="#c0c0c0"/>
<rect x="980" y="688" width="1" height="5" fill="#c0c0c0"/>
<rect x="988" y="688" width="1" height="4" fill="#c0c0c0"/>
<rect x="996" y="688" width="1" height="2" fill="#c0c0c0"/>
<rect x="1012" y="684" width="1" height="5" fill="#c0c0c0"/>
<rect x="1020" y="682" width="1" height="7" fill="#c0c0c0"/>
<rect x="1052" y="687" width="1" height="2" fill="#c0c0c0"/>
<rect x="1060" y="684" width="1" height="5" fill="#c0c0c0"/>
<rect x="1068" y="679" width="1" height="10" fill="#c0c0c0"/>
<rect x="1076" y="674" width="1" height="15" fill="#c0c0c0"/>
<rect x="1084" y="666" width="1" height="23" fill="#c0c0c0"/>
<rect x="1092" y="658" width="1" height="31" fill="#c0c0c0"/>
<rect x="1100" y="655" width="1" height="34" fill="#c0c0c0"/>
<rect x="1108" y="650" width="1" height="39" fill="#c0c0c0"/>
<rect x="1116" y="635" width="1" height="54" fill="#c0c0c0"/>
<rect x="1124" y="627" width="1" height="62" fill="#c0c0c0"/>
<rect x="1132" y="621" width="1" height="68" fill="#c0c0c0"/>
<rect x="1140" y="619" width="1" height="70" fill="#c0c0c0"/>
<rect x="1148" y="619" width="1" height="70" fill="#c0c0c0"/>
<rect x="1156" y="623" width="1" height="66" fill="#c0c0c0"/>
<rect x="1164" y="628" width="1" height="61" fill="#c0c0c0"/>
<rect x="1172" y="632" width="1" height="57" fill="#c0c0c0"/>
<rect x="1180" y="640" width="1" height="49" fill="#c0c0c0"/>
<rect x="1188" y="647" width="1" height="42" fill="#c0c0c0"/>
<rect x="1196" y="650" width="1" height="39" fill="#c0c0c0"/>
<rect x="1204" y="651" width="1" height="38" fill="#c0c0c0"/>
<rect x="1212" y="654" width="1" height="35" fill="#c0c0c0"/>
<rect x="1220" y="656" width="1" height="33" fill="#c0c0c0"/>
<rect x="1228" y="657" width="1" height="32" fill="#c0c0c0"/>
<rect x="1236" y="660" width="1" height="29" fill="#c0c0c0"/>
<rect x="1244" y="661" width="1" height="28" fill="#c0c0c0"/>
<rect x="1252" y="660" width="1" height="29" fill="#c0c0c0"/>
<rect x="1260" y="660" width="1" height="29" fill="#c0c0c0"/>
<rect x="1268" y="659" width="1" height="30" fill="#c0c0c0"/>
<rect x="1276" y="655" width="1" height="34" fill="#c0c0c0"/>
<rect x="1284" y="651" width="1" height="38" fill="#c0c0c0"/>
<rect x="1292" y="649" width="1" height="40" fill="#c0c0c0"/>
<rect x="1300" y="649" width="1" height="40" fill="#c0c0c0"/>
<rect x="1308" y="651" width="1" height="38" fill="#c0c0c0"/>
<rect x="1316" y="657" width="1" height="32" fill="#c0c0c0"/>
<rect x="1324" y="663" width="1" height="26" fill="#c0c0c0"/>
<rect x="1332" y="666" width="1" height="23" fill="#c0c0c0"/>
<path d="M1179 626.5h2M1173 627.5h3M1181 627.5h1M1185 627.5h3M1169 628.5h1M1191 628.5h1M1167 629.5h2M1192 629.5h2M1162 631.5h2M1197 631.5h3M1161 632.5h1M1157 633.5h1M1203 633.5h3M1155 634.5h2M1209 635.5h1M1151 636.5h1M1210 636.5h2M1150 637.5h1M4 638.5h1M1149 638.5h1M1215 638.5h1M5 639.5h1M1216 639.5h2M6 640.5h1M881 640.5h2M1145 640.5h1M880 641.5h1M886 641.5h3M1144 641.5h1M1221 641.5h1M874 642.5h3M892 642.5h3M1143 642.5h1M1222 642.5h2M10 643.5h1M869 643.5h2M898 643.5h3M11 644.5h1M868 644.5h1M904 644.5h2M1227 644.5h1M12 645.5h1M863 645.5h2M906 645.5h1M1138 645.5h2M1228 645.5h2M862 646.5h1M910 646.5h1M1137 646.5h1M911 647.5h2M1233 647.5h2M16 648.5h1M154 648.5h2M159 648.5h3M165 648.5h3M171 648.5h3M1235 648.5h1M17 649.5h2M153 649.5h1M177 649.5h3M857 649.5h2M916 649.5h1M149 650.5h1M183 650.5h3M856 650.5h1M917 650.5h2M1133 650.5h1M1239 650.5h2M147 651.5h2M189 651.5h2M1131 651.5h2M1241 651.5h1M143 652.5h1M191 652.5h1M922 652.5h3M1245 652.5h3M22 653.5h2M141 653.5h2M195 653.5h1M852 653.5h1M928 653.5h1M24 654.5h1M137 654.5h1M196 654.5h2M851 654.5h1M929 654.5h2M1251 654.5h3M1319 654.5h1M1323 654.5h3M1329 654.5h2M135 655.5h2M850 655.5h1M934 655.5h2M1126 655.5h2M1257 655.5h3M1294 655.5h2M1299 655.5h3M1305 655.5h3M1311 655.5h3M1317 655.5h2M471 656.5h3M477 656.5h3M483 656.5h1M936 656.5h1M1125 656.5h1M1263 656.5h3M1269 656.5h2M1282 656.5h2M1287 656.5h3M1293 656.5h1M201 657.5h2M466 657.5h2M484 657.5h2M940 657.5h2M1271 657.5h1M1275 657.5h3M1281 657.5h1M27 658.5h1M130 658.5h2M203 658.5h1M461 658.5h1M465 658.5h1M489 658.5h2M942 658.5h1M28 659.5h2M129 659.5h1M459 659.5h2M491 659.5h1M846 659.5h1M946 659.5h1M1121 659.5h1M207 660.5h1M315 660.5h3M321 660.5h2M495 660.5h1M845 660.5h1M947 660.5h2M1121 660.5h1M124 661.5h2M208 661.5h2M310 661.5h2M323 661.5h1M327 661.5h3M454 661.5h2M496 661.5h2M844 661.5h1M952 661.5h1M1120 661.5h1M123 662.5h1M305 662.5h1M309 662.5h1M333 662.5h2M453 662.5h1M953 662.5h2M33 663.5h1M303 663.5h2M335 663.5h1M449 663.5h1M501 663.5h2M1116 663.5h1M34 664.5h1M118 664.5h2M213 664.5h2M339 664.5h2M448 664.5h1M503 664.5h1M958 664.5h2M1115 664.5h1M35 665.5h1M117 665.5h1M215 665.5h1M298 665.5h2M341 665.5h1M447 665.5h1M840 665.5h1M960 665.5h1M1114 665.5h1M297 666.5h1M345 666.5h2M442 666.5h2M507 666.5h1M839 666.5h1M219 667.5h1M347 667.5h1M441 667.5h1M508 667.5h2M838 667.5h1M964 667.5h2M1110 667.5h1M39 668.5h1M113 668.5h1M220 668.5h2M292 668.5h2M351 668.5h2M436 668.5h2M966 668.5h1M1109 668.5h1M40 669.5h1M112 669.5h1M291 669.5h1M353 669.5h1M435 669.5h1M1108 669.5h1M41 670.5h1M111 670.5h1M357 670.5h2M513 670.5h2M970 670.5h2M225 671.5h1M287 671.5h1M359 671.5h1M429 671.5h3M515 671.5h1M834 671.5h1M972 671.5h1M226 672.5h2M285 672.5h2M363 672.5h2M424 672.5h2M833 672.5h1M1103 672.5h2M106 673.5h2M365 673.5h1M423 673.5h1M833 673.5h1M976 673.5h2M1102 673.5h1M45 674.5h1M105 674.5h1M281 674.5h1M369 674.5h2M417 674.5h3M519 674.5h1M978 674.5h1M46 675.5h2M231 675.5h2M279 675.5h2M371 675.5h1M375 675.5h2M413 675.5h1M520 675.5h1M982 675.5h1M1097 675.5h2M233 676.5h1M377 676.5h1M381 676.5h1M411 676.5h2M521 676.5h1M983 676.5h2M1096 676.5h1M101 677.5h1M275 677.5h1M382 677.5h2M387 677.5h1M405 677.5h3M829 677.5h1M51 678.5h1M100 678.5h1M237 678.5h3M273 678.5h2M388 678.5h2M393 678.5h3M399 678.5h3M828 678.5h1M988 678.5h2M1091 678.5h2M52 679.5h2M99 679.5h1M243 679.5h3M525 679.5h1M828 679.5h1M990 679.5h1M1090 679.5h1M249 680.5h2M267 680.5h3M526 680.5h2M994 680.5h1M1084 680.5h3M94 681.5h2M251 681.5h1M255 681.5h2M261 681.5h3M995 681.5h2M1080 681.5h1M57 682.5h2M93 682.5h1M257 682.5h1M1000 682.5h1M1078 682.5h2M59 683.5h1M89 683.5h1M531 683.5h1M824 683.5h1M1001 683.5h2M1072 683.5h3M63 684.5h1M87 684.5h2M532 684.5h1M823 684.5h1M1006 684.5h3M1066 684.5h3M64 685.5h2M533 685.5h1M823 685.5h1M1012 685.5h2M1061 685.5h2M75 686.5h3M81 686.5h3M1014 686.5h1M1018 686.5h1M1056 686.5h1M1060 686.5h1M69 687.5h3M1019 687.5h2M1024 687.5h3M1030 687.5h1M1043 687.5h2M1048 687.5h3M1054 687.5h2M1031 688.5h2M1036 688.5h3M1042 688.5h1M536 689.5h1M819 689.5h1M537 690.5h1M818 690.5h1M538 691.5h1M817 691.5h1M542 694.5h1M813 694.5h1M543 695.5h1M812 695.5h1M544 696.5h1M811 696.5h1M807 699.5h1M548 700.5h1M806 700.5h1M548 701.5h1M805 701.5h1M549 702.5h1M699 703.5h1M703 703.5h3M709 703.5h3M692 704.5h2M697 704.5h2M715 704.5h3M801 704.5h1M553 705.5h2M691 705.5h1M721 705.5h2M800 705.5h1M555 706.5h1M685 706.5h3M723 706.5h1M799 706.5h1M680 707.5h2M727 707.5h2M679 708.5h1M729 708.5h1M559 709.5h1M673 709.5h3M733 709.5h2M795 709.5h1M560 710.5h1M735 710.5h1M793 710.5h2M561 711.5h1M667 711.5h3M739 711.5h2M662 712.5h2M741 712.5h1M789 712.5h1M661 713.5h1M745 713.5h3M788 713.5h1M565 714.5h1M656 714.5h2M751 714.5h2M783 714.5h1M787 714.5h1M566 715.5h1M655 715.5h1M753 715.5h1M757 715.5h3M781 715.5h2M567 716.5h1M650 716.5h2M763 716.5h3M769 716.5h3M775 716.5h3M649 717.5h1M571 718.5h1M644 718.5h2M572 719.5h1M643 719.5h1M573 720.5h1M637 720.5h3M577 721.5h2M632 721.5h2M579 722.5h1M627 722.5h1M631 722.5h1M583 723.5h2M625 723.5h2M585 724.5h1M613 724.5h3M619 724.5h3M589 725.5h3M595 725.5h3M601 725.5h2M607 725.5h3M603 726.5h1" fill="none" stroke="#ff0000" stroke-width="1"/>
<line x1="4" y1="782.5" x2="1689" y2="782.5" stroke="#c0c0c0" stroke-width="1" stroke-dasharray="3 3"/>
<line x1="4" y1="832.5" x2="1689" y2="832.5" stroke="#c0c0c0" stroke-width="1" stroke-dasharray="3 3"/>
<path d="M1116 777.5h2M1115 778.5h1M1118 778.5h2M1114 779.5h1M1120 779.5h1M1113 780.5h1M1121 780.5h2M1113 781.5h1M1123 781.5h2M1112 782.5h1M1125 782.5h8M1111 783.5h1M1133 783.5h3M1088 784.5h5M1111 784.5h1M1136 784.5h3M1085 785.5h3M1093 785.5h1M1110 785.5h1M1139 785.5h2M1283 785.5h4M801 786.5h8M815 786.5h7M1084 786.5h1M1094 786.5h1M1109 786.5h1M1141 786.5h5M1280 786.5h3M1287 786.5h2M797 787.5h4M809 787.5h6M822 787.5h2M1083 787.5h1M1095 787.5h1M1109 787.5h1M1146 787.5h3M1277 787.5h3M1289 787.5h2M410 788.5h3M796 788.5h1M824 788.5h2M1082 788.5h1M1096 788.5h1M1108 788.5h1M1149 788.5h1M1276 788.5h1M1291 788.5h2M120 789.5h5M405 789.5h5M413 789.5h1M795 789.5h1M826 789.5h2M831 789.5h6M1081 789.5h1M1097 789.5h1M1106 789.5h2M1150 789.5h1M1275 789.5h1M1293 789.5h2M116 790.5h4M125 790.5h2M404 790.5h1M413 790.5h1M795 790.5h1M828 790.5h3M837 790.5h2M1080 790.5h1M1097 790.5h1M1104 790.5h2M1151 790.5h1M1273 790.5h2M1295 790.5h4M101 791.5h15M127 791.5h2M252 791.5h18M403 791.5h1M414 791.5h1M794 791.5h1M839 791.5h2M1078 791.5h2M1098 791.5h1M1103 791.5h1M1152 791.5h2M1272 791.5h1M1299 791.5h2M97 792.5h4M129 792.5h2M251 792.5h1M270 792.5h2M402 792.5h1M415 792.5h1M794 792.5h1M841 792.5h2M1077 792.5h1M1099 792.5h1M1101 792.5h2M1154 792.5h1M1271 792.5h1M1301 792.5h2M93 793.5h4M131 793.5h1M250 793.5h1M272 793.5h3M401 793.5h1M415 793.5h1M793 793.5h1M843 793.5h1M1076 793.5h1M1100 793.5h1M1155 793.5h1M1269 793.5h2M1303 793.5h2M91 794.5h2M132 794.5h2M249 794.5h1M275 794.5h2M400 794.5h1M416 794.5h1M792 794.5h1M844 794.5h6M1075 794.5h1M1156 794.5h1M1268 794.5h1M1305 794.5h1M90 795.5h1M134 795.5h1M248 795.5h1M277 795.5h3M400 795.5h1M417 795.5h1M435 795.5h3M792 795.5h1M850 795.5h3M1070 795.5h5M1157 795.5h2M1251 795.5h3M1265 795.5h3M1306 795.5h2M89 796.5h1M135 796.5h2M247 796.5h1M280 796.5h3M399 796.5h1M418 796.5h1M432 796.5h3M438 796.5h2M791 796.5h1M853 796.5h2M1069 796.5h1M1159 796.5h6M1166 796.5h7M1249 796.5h2M1254 796.5h5M1262 796.5h3M1308 796.5h1M87 797.5h2M137 797.5h1M147 797.5h3M247 797.5h1M283 797.5h2M398 797.5h1M419 797.5h1M429 797.5h3M440 797.5h3M644 797.5h1M780 797.5h1M791 797.5h1M855 797.5h1M1067 797.5h2M1165 797.5h1M1173 797.5h1M1200 797.5h6M1246 797.5h3M1259 797.5h3M1308 797.5h1M52 798.5h4M86 798.5h1M138 798.5h1M144 798.5h3M150 798.5h1M185 798.5h3M246 798.5h1M285 798.5h1M397 798.5h1M419 798.5h1M426 798.5h3M443 798.5h16M643 798.5h1M645 798.5h1M780 798.5h3M790 798.5h1M856 798.5h2M866 798.5h5M1010 798.5h4M1065 798.5h2M1174 798.5h1M1197 798.5h3M1206 798.5h2M1226 798.5h4M1244 798.5h2M1309 798.5h1M50 799.5h2M56 799.5h4M85 799.5h1M139 799.5h2M142 799.5h2M150 799.5h1M183 799.5h2M188 799.5h1M245 799.5h1M286 799.5h1M396 799.5h1M420 799.5h1M422 799.5h4M459 799.5h6M643 799.5h1M646 799.5h1M779 799.5h1M783 799.5h2M789 799.5h1M858 799.5h1M864 799.5h2M871 799.5h3M916 799.5h2M1008 799.5h2M1014 799.5h2M1063 799.5h2M1175 799.5h1M1196 799.5h1M1208 799.5h2M1221 799.5h5M1230 799.5h2M1241 799.5h3M1310 799.5h1M48 800.5h2M60 800.5h4M81 800.5h4M141 800.5h1M151 800.5h1M181 800.5h2M189 800.5h1M244 800.5h1M287 800.5h1M395 800.5h1M421 800.5h1M465 800.5h3M642 800.5h1M647 800.5h1M779 800.5h1M785 800.5h2M789 800.5h1M859 800.5h1M861 800.5h3M874 800.5h2M898 800.5h3M914 800.5h2M918 800.5h1M939 800.5h1M1005 800.5h3M1016 800.5h3M1061 800.5h2M1176 800.5h1M1194 800.5h2M1210 800.5h2M1217 800.5h4M1232 800.5h2M1239 800.5h2M1311 800.5h1M46 801.5h2M64 801.5h3M77 801.5h4M151 801.5h1M180 801.5h1M190 801.5h1M243 801.5h1M288 801.5h1M395 801.5h1M468 801.5h1M642 801.5h1M648 801.5h2M778 801.5h1M787 801.5h2M860 801.5h1M876 801.5h3M893 801.5h5M901 801.5h2M912 801.5h2M919 801.5h1M936 801.5h3M940 801.5h1M1003 801.5h2M1019 801.5h1M1057 801.5h4M1177 801.5h1M1193 801.5h1M1212 801.5h5M1234 801.5h2M1237 801.5h2M1311 801.5h1M45 802.5h1M67 802.5h10M152 802.5h1M178 802.5h2M191 802.5h1M242 802.5h1M289 802.5h1M393 802.5h2M469 802.5h1M641 802.5h1M650 802.5h1M778 802.5h1M788 802.5h1M879 802.5h3M888 802.5h5M903 802.5h3M910 802.5h2M920 802.5h1M933 802.5h3M941 802.5h1M1000 802.5h3M1020 802.5h1M1052 802.5h5M1178 802.5h1M1192 802.5h1M1236 802.5h1M1312 802.5h1M44 803.5h1M152 803.5h1M176 803.5h2M191 803.5h1M241 803.5h1M290 803.5h1M331 803.5h4M348 803.5h8M392 803.5h1M470 803.5h1M641 803.5h1M651 803.5h1M777 803.5h1M882 803.5h2M885 803.5h3M906 803.5h2M909 803.5h1M921 803.5h1M932 803.5h1M942 803.5h1M998 803.5h2M1021 803.5h1M1051 803.5h1M1179 803.5h1M1190 803.5h2M1313 803.5h1M43 804.5h1M153 804.5h1M163 804.5h6M174 804.5h2M192 804.5h1M241 804.5h1M291 804.5h1M329 804.5h2M335 804.5h1M345 804.5h3M356 804.5h2M390 804.5h2M470 804.5h1M640 804.5h1M652 804.5h4M777 804.5h1M884 804.5h1M908 804.5h1M921 804.5h1M930 804.5h2M943 804.5h1M996 804.5h2M1022 804.5h1M1049 804.5h2M1180 804.5h1M1189 804.5h1M1314 804.5h1M42 805.5h1M153 805.5h1M162 805.5h1M169 805.5h5M193 805.5h1M240 805.5h1M292 805.5h1M315 805.5h4M327 805.5h2M336 805.5h3M342 805.5h3M358 805.5h1M389 805.5h1M471 805.5h1M640 805.5h1M656 805.5h4M661 805.5h7M777 805.5h1M922 805.5h1M928 805.5h2M944 805.5h1M993 805.5h3M1022 805.5h1M1048 805.5h1M1181 805.5h8M1315 805.5h1M1331 805.5h2M41 806.5h1M154 806.5h1M160 806.5h2M194 806.5h1M239 806.5h1M293 806.5h1M314 806.5h1M319 806.5h4M325 806.5h2M339 806.5h3M359 806.5h1M385 806.5h4M472 806.5h1M639 806.5h1M660 806.5h1M668 806.5h1M776 806.5h1M923 806.5h1M926 806.5h2M945 806.5h1M989 806.5h4M1023 806.5h1M1046 806.5h2M1188 806.5h1M1316 806.5h2M1329 806.5h2M40 807.5h1M154 807.5h1M159 807.5h1M194 807.5h1M238 807.5h1M294 807.5h1M313 807.5h1M323 807.5h2M360 807.5h2M379 807.5h6M472 807.5h1M594 807.5h2M639 807.5h1M669 807.5h2M776 807.5h1M924 807.5h2M946 807.5h1M987 807.5h2M1024 807.5h1M1044 807.5h2M1318 807.5h2M1327 807.5h2M39 808.5h1M155 808.5h1M158 808.5h1M195 808.5h1M237 808.5h1M295 808.5h2M311 808.5h2M362 808.5h1M377 808.5h2M473 808.5h1M483 808.5h3M589 808.5h5M596 808.5h2M638 808.5h1M671 808.5h1M764 808.5h1M775 808.5h1M925 808.5h1M946 808.5h1M986 808.5h1M1024 808.5h1M1036 808.5h8M1320 808.5h3M1325 808.5h2M38 809.5h1M155 809.5h1M157 809.5h1M196 809.5h1M236 809.5h1M297 809.5h1M310 809.5h1M363 809.5h2M375 809.5h2M474 809.5h1M481 809.5h2M486 809.5h4M587 809.5h2M598 809.5h1M638 809.5h1M672 809.5h1M762 809.5h3M775 809.5h1M947 809.5h1M984 809.5h2M1025 809.5h1M1035 809.5h1M1323 809.5h2M37 810.5h1M156 810.5h1M197 810.5h1M212 810.5h5M233 810.5h3M298 810.5h1M309 810.5h1M365 810.5h3M373 810.5h2M474 810.5h1M478 810.5h3M490 810.5h2M584 810.5h3M599 810.5h1M637 810.5h1M673 810.5h1M761 810.5h1M765 810.5h1M774 810.5h1M948 810.5h1M983 810.5h1M1026 810.5h1M1033 810.5h2M36 811.5h1M197 811.5h1M211 811.5h1M217 811.5h3M226 811.5h7M299 811.5h1M306 811.5h3M368 811.5h5M475 811.5h1M477 811.5h1M492 811.5h1M582 811.5h2M600 811.5h2M636 811.5h1M674 811.5h2M759 811.5h2M766 811.5h1M774 811.5h1M949 811.5h2M981 811.5h2M1027 811.5h1M1031 811.5h2M31 812.5h5M198 812.5h1M210 812.5h1M220 812.5h6M300 812.5h1M302 812.5h4M476 812.5h1M493 812.5h1M575 812.5h7M602 812.5h1M635 812.5h1M676 812.5h1M679 812.5h10M747 812.5h5M757 812.5h2M767 812.5h1M774 812.5h1M951 812.5h1M980 812.5h1M1027 812.5h1M1029 812.5h2M26 813.5h5M199 813.5h1M209 813.5h1M301 813.5h1M493 813.5h1M571 813.5h4M603 813.5h1M633 813.5h2M677 813.5h2M689 813.5h4M745 813.5h2M752 813.5h5M768 813.5h1M773 813.5h1M952 813.5h2M978 813.5h2M1028 813.5h1M23 814.5h3M200 814.5h1M208 814.5h1M494 814.5h1M568 814.5h3M604 814.5h4M632 814.5h1M693 814.5h1M742 814.5h3M769 814.5h1M773 814.5h1M954 814.5h2M976 814.5h2M21 815.5h2M200 815.5h1M208 815.5h1M495 815.5h1M516 815.5h1M566 815.5h2M608 815.5h4M630 815.5h2M694 815.5h1M739 815.5h3M770 815.5h1M772 815.5h1M956 815.5h6M974 815.5h2M11 816.5h10M201 816.5h1M207 816.5h1M496 816.5h1M515 816.5h2M564 816.5h2M612 816.5h1M629 816.5h1M694 816.5h1M737 816.5h2M771 816.5h2M962 816.5h6M972 816.5h2M8 817.5h3M202 817.5h1M206 817.5h1M497 817.5h1M513 817.5h2M517 817.5h1M563 817.5h1M613 817.5h1M628 817.5h1M695 817.5h1M734 817.5h3M772 817.5h1M968 817.5h4M5 818.5h3M203 818.5h1M205 818.5h1M497 818.5h1M512 818.5h1M518 818.5h1M562 818.5h1M614 818.5h2M627 818.5h1M696 818.5h2M721 818.5h13M4 819.5h1M203 819.5h1M205 819.5h1M498 819.5h1M511 819.5h1M519 819.5h2M561 819.5h1M616 819.5h1M625 819.5h2M698 819.5h1M717 819.5h4M204 820.5h1M499 820.5h1M509 820.5h2M521 820.5h1M540 820.5h2M560 820.5h1M617 820.5h1M623 820.5h2M698 820.5h1M707 820.5h10M499 821.5h1M508 821.5h1M522 821.5h1M538 821.5h2M542 821.5h2M558 821.5h2M618 821.5h2M621 821.5h2M699 821.5h1M703 821.5h4M500 822.5h8M523 822.5h1M537 822.5h1M544 822.5h1M557 822.5h1M620 822.5h1M700 822.5h3M524 823.5h1M535 823.5h2M545 823.5h2M556 823.5h1M525 824.5h3M534 824.5h1M547 824.5h9M528 825.5h3M533 825.5h1M531 826.5h2" fill="none" stroke="#1e90ff" stroke-width="1"/>
<rect x="1690" y="45" width="2" height="1" fill="#000"/>
<rect x="1690" y="78" width="2" height="1" fill="#000"/>
<rect x="1690" y="111" width="2" height="1" fill="#000"/>
<rect x="1690" y="144" width="2" height="1" fill="#000"/>
<rect x="1690" y="177" width="2" height="1" fill="#000"/>
<rect x="1690" y="210" width="2" height="1" fill="#000"/>
<rect x="1690" y="243" width="2" height="1" fill="#000"/>
<rect x="1690" y="276" width="2" height="1" fill="#000"/>
<rect x="1690" y="309" width="2" height="1" fill="#000"/>
<rect x="1690" y="341" width="2" height="1" fill="#000"/>
<rect x="1690" y="374" width="2" height="1" fill="#000"/>
<rect x="1690" y="407" width="2" height="1" fill="#000"/>
<rect x="1690" y="440" width="2" height="1" fill="#000"/>
<rect x="1690" y="473" width="2" height="1" fill="#000"/>
<rect x="1690" y="506" width="2" height="1" fill="#000"/>
<rect x="1690" y="539" width="2" height="1" fill="#000"/>
<rect x="1690" y="572" width="2" height="1" fill="#000"/>
<rect x="1690" y="605" width="2" height="1" fill="#000"/>
<rect x="1690" y="688" width="2" height="1" fill="#000"/>
<rect x="1690" y="742" width="2" height="1" fill="#000"/>
<rect x="1690" y="871" width="2" height="1" fill="#000"/>
<rect x="4" y="872" width="1" height="3" fill="#000"/>
<rect x="68" y="872" width="1" height="3" fill="#000"/>
<rect x="132" y="872" width="1" height="3" fill="#000"/>
<rect x="196" y="872" width="1" height="3" fill="#000"/>
<rect x="260" y="872" width="1" height="3" fill="#000"/>
<rect x="324" y="872" width="1" height="3" fill="#000"/>
<rect x="388" y="872" width="1" height="3" fill="#000"/>
<rect x="452" y="872" width="1" height="3" fill="#000"/>
<rect x="516" y="872" width="1" height="3" fill="#000"/>
<rect x="580" y="872" width="1" height="3" fill="#000"/>
<rect x="644" y="872" width="1" height="3" fill="#000"/>
<rect x="708" y="872" width="1" height="3" fill="#000"/>
<rect x="772" y="872" width="1" height="3" fill="#000"/>
<rect x="836" y="872" width="1" height="3" fill="#000"/>
<rect x="900" y="872" width="1" height="3" fill="#000"/>
<rect x="964" y="872" width="1" height="3" fill="#000"/>
<rect x="1028" y="872" width="1" height="3" fill="#000"/>
<rect x="1092" y="872" width="1" height="3" fill="#000"/>
<rect x="1156" y="872" width="1" height="3" fill="#000"/>
<rect x="1220" y="872" width="1" height="3" fill="#000"/>
<rect x="1284" y="872" width="1" height="3" fill="#000"/>
</svg>
<svg width="10" height="6" style="position:absolute;left:7px;top:36px"><polygon points="0,0 7,0 3.5,4" fill="#000"/></svg>
<div class="t b " style="left:19.00px;top:32.44px;font-size:9.7px;line-height:12px;color:#000;transform:scaleX(0.969);transform-origin:0 50%;letter-spacing:0.1px;">CHINA300-,H4</div>
<div class="t b " style="left:89.60px;top:32.44px;font-size:9.7px;line-height:12px;color:#000;transform:scaleX(0.969);transform-origin:0 50%;">4894.3 4914.6 4892.8 4913.2</div>
<div class="t b " style="left:8.00px;top:615.24px;font-size:9.7px;line-height:12px;color:#000;transform:scaleX(0.969);transform-origin:0 50%;">MACD(12,26,9) 20.44 30.13</div>
<div class="t b " style="left:7.80px;top:746.14px;font-size:9.7px;line-height:12px;color:#000;transform:scaleX(0.969);transform-origin:0 50%;">RSI(14) 51.3385</div>
<div class="t b " style="left:1695.00px;top:39.94px;font-size:9.7px;line-height:12px;color:#000;transform:scaleX(0.969);transform-origin:0 50%;">5045.0</div>
<div class="t b " style="left:1695.00px;top:72.88px;font-size:9.7px;line-height:12px;color:#000;transform:scaleX(0.969);transform-origin:0 50%;">5008.0</div>
<div class="t b " style="left:1695.00px;top:105.82px;font-size:9.7px;line-height:12px;color:#000;transform:scaleX(0.969);transform-origin:0 50%;">4971.0</div>
<div class="t b " style="left:1695.00px;top:138.76px;font-size:9.7px;line-height:12px;color:#000;transform:scaleX(0.969);transform-origin:0 50%;">4935.0</div>
<div class="t b " style="left:1695.00px;top:171.70px;font-size:9.7px;line-height:12px;color:#000;transform:scaleX(0.969);transform-origin:0 50%;">4898.0</div>
<div class="t b " style="left:1695.00px;top:204.64px;font-size:9.7px;line-height:12px;color:#000;transform:scaleX(0.969);transform-origin:0 50%;">4861.0</div>
<div class="t b " style="left:1695.00px;top:237.58px;font-size:9.7px;line-height:12px;color:#000;transform:scaleX(0.969);transform-origin:0 50%;">4825.0</div>
<div class="t b " style="left:1695.00px;top:270.52px;font-size:9.7px;line-height:12px;color:#000;transform:scaleX(0.969);transform-origin:0 50%;">4788.0</div>
<div class="t b " style="left:1695.00px;top:303.46px;font-size:9.7px;line-height:12px;color:#000;transform:scaleX(0.969);transform-origin:0 50%;">4751.0</div>
<div class="t b " style="left:1695.00px;top:336.40px;font-size:9.7px;line-height:12px;color:#000;transform:scaleX(0.969);transform-origin:0 50%;">4714.0</div>
<div class="t b " style="left:1695.00px;top:369.34px;font-size:9.7px;line-height:12px;color:#000;transform:scaleX(0.969);transform-origin:0 50%;">4678.0</div>
<div class="t b " style="left:1695.00px;top:402.28px;font-size:9.7px;line-height:12px;color:#000;transform:scaleX(0.969);transform-origin:0 50%;">4641.0</div>
<div class="t b " style="left:1695.00px;top:435.22px;font-size:9.7px;line-height:12px;color:#000;transform:scaleX(0.969);transform-origin:0 50%;">4604.0</div>
<div class="t b " style="left:1695.00px;top:468.16px;font-size:9.7px;line-height:12px;color:#000;transform:scaleX(0.969);transform-origin:0 50%;">4568.0</div>
<div class="t b " style="left:1695.00px;top:501.10px;font-size:9.7px;line-height:12px;color:#000;transform:scaleX(0.969);transform-origin:0 50%;">4531.0</div>
<div class="t b " style="left:1695.00px;top:534.04px;font-size:9.7px;line-height:12px;color:#000;transform:scaleX(0.969);transform-origin:0 50%;">4494.0</div>
<div class="t b " style="left:1695.00px;top:566.98px;font-size:9.7px;line-height:12px;color:#000;transform:scaleX(0.969);transform-origin:0 50%;">4457.0</div>
<div class="t b " style="left:1695.00px;top:599.92px;font-size:9.7px;line-height:12px;color:#000;transform:scaleX(0.969);transform-origin:0 50%;">4421.0</div>
<div class="t b " style="left:1693.00px;top:613.14px;font-size:9.7px;line-height:12px;color:#000;transform:scaleX(0.969);transform-origin:0 50%;">68.19</div>
<div class="t b " style="left:1693.00px;top:683.14px;font-size:9.7px;line-height:12px;color:#000;transform:scaleX(0.969);transform-origin:0 50%;">0.00</div>
<div class="t b " style="left:1693.00px;top:728.14px;font-size:9.7px;line-height:12px;color:#000;transform:scaleX(0.969);transform-origin:0 50%;">-46.45</div>
<div class="t b " style="left:1693.00px;top:744.14px;font-size:9.7px;line-height:12px;color:#000;transform:scaleX(0.969);transform-origin:0 50%;">100</div>
<div class="t b " style="left:1693.00px;top:777.44px;font-size:9.7px;line-height:12px;color:#000;transform:scaleX(0.969);transform-origin:0 50%;">70</div>
<div class="t b " style="left:1693.00px;top:827.44px;font-size:9.7px;line-height:12px;color:#000;transform:scaleX(0.969);transform-origin:0 50%;">30</div>
<div class="t b " style="left:1693.00px;top:858.84px;font-size:9.7px;line-height:12px;color:#000;transform:scaleX(0.969);transform-origin:0 50%;">0</div>
<div class="ln" style="left:1691px;top:158px;width:36px;height:11px;background:#000"></div><div class="t b " style="left:1695.00px;top:158.24px;font-size:9.7px;line-height:12px;color:#fff;transform:scaleX(0.969);transform-origin:0 50%;">4913.2</div>
<div class="ln" style="left:1691px;top:214px;width:36px;height:11px;background:#32cd32"></div><div class="t b " style="left:1695.00px;top:214.24px;font-size:9.7px;line-height:12px;color:#fff;transform:scaleX(0.969);transform-origin:0 50%;">4850.0</div>
<div class="ln" style="left:1691px;top:349px;width:36px;height:11px;background:#4169e1"></div><div class="t b " style="left:1695.00px;top:349.24px;font-size:9.7px;line-height:12px;color:#fff;transform:scaleX(0.969);transform-origin:0 50%;">4700.0</div>
<div class="ln" style="left:1691px;top:488px;width:36px;height:11px;background:#4169e1"></div><div class="t b " style="left:1695.00px;top:488.24px;font-size:9.7px;line-height:12px;color:#fff;transform:scaleX(0.969);transform-origin:0 50%;">4545.0</div>
<div class="t b " style="left:2.60px;top:875.24px;font-size:9.7px;line-height:12px;color:#000;transform:scaleX(0.969);transform-origin:0 50%;">24 Jul 2020</div>
<div class="t b " style="left:66.60px;top:875.24px;font-size:9.7px;line-height:12px;color:#000;transform:scaleX(0.969);transform-origin:0 50%;">30 Jul 05:00</div>
<div class="t b " style="left:130.60px;top:875.24px;font-size:9.7px;line-height:12px;color:#000;transform:scaleX(0.969);transform-origin:0 50%;">5 Aug 05:00</div>
<div class="t b " style="left:194.60px;top:875.24px;font-size:9.7px;line-height:12px;color:#000;transform:scaleX(0.969);transform-origin:0 50%;">11 Aug 05:00</div>
<div class="t b " style="left:258.60px;top:875.24px;font-size:9.7px;line-height:12px;color:#000;transform:scaleX(0.969);transform-origin:0 50%;">17 Aug 05:00</div>
<div class="t b " style="left:322.60px;top:875.24px;font-size:9.7px;line-height:12px;color:#000;transform:scaleX(0.969);transform-origin:0 50%;">21 Aug 05:00</div>
<div class="t b " style="left:386.60px;top:875.24px;font-size:9.7px;line-height:12px;color:#000;transform:scaleX(0.969);transform-origin:0 50%;">27 Aug 05:00</div>
<div class="t b " style="left:450.60px;top:875.24px;font-size:9.7px;line-height:12px;color:#000;transform:scaleX(0.969);transform-origin:0 50%;">2 Sep 05:00</div>
<div class="t b " style="left:514.60px;top:875.24px;font-size:9.7px;line-height:12px;color:#000;transform:scaleX(0.969);transform-origin:0 50%;">8 Sep 05:00</div>
<div class="t b " style="left:578.60px;top:875.24px;font-size:9.7px;line-height:12px;color:#000;transform:scaleX(0.969);transform-origin:0 50%;">14 Sep 05:00</div>
<div class="t b " style="left:642.60px;top:875.24px;font-size:9.7px;line-height:12px;color:#000;transform:scaleX(0.969);transform-origin:0 50%;">18 Sep 05:00</div>
<div class="t b " style="left:706.60px;top:875.24px;font-size:9.7px;line-height:12px;color:#000;transform:scaleX(0.969);transform-origin:0 50%;">24 Sep 05:00</div>
<div class="t b " style="left:770.60px;top:875.24px;font-size:9.7px;line-height:12px;color:#000;transform:scaleX(0.969);transform-origin:0 50%;">30 Sep 05:00</div>
<div class="t b " style="left:834.60px;top:875.24px;font-size:9.7px;line-height:12px;color:#000;transform:scaleX(0.969);transform-origin:0 50%;">14 Oct 05:00</div>
<div class="t b " style="left:898.60px;top:875.24px;font-size:9.7px;line-height:12px;color:#000;transform:scaleX(0.969);transform-origin:0 50%;">20 Oct 05:00</div>
<div class="t b " style="left:962.60px;top:875.24px;font-size:9.7px;line-height:12px;color:#000;transform:scaleX(0.969);transform-origin:0 50%;">26 Oct 05:00</div>
<div class="t b " style="left:1026.60px;top:875.24px;font-size:9.7px;line-height:12px;color:#000;transform:scaleX(0.969);transform-origin:0 50%;">30 Oct 05:00</div>
<div class="t b " style="left:1090.60px;top:875.24px;font-size:9.7px;line-height:12px;color:#000;transform:scaleX(0.969);transform-origin:0 50%;">5 Nov 05:00</div>
<div class="t b " style="left:1154.60px;top:875.24px;font-size:9.7px;line-height:12px;color:#000;transform:scaleX(0.969);transform-origin:0 50%;">11 Nov 05:00</div>
<div class="t b " style="left:1218.60px;top:875.24px;font-size:9.7px;line-height:12px;color:#000;transform:scaleX(0.969);transform-origin:0 50%;">17 Nov 05:00</div>
<div class="t b " style="left:1282.60px;top:875.24px;font-size:9.7px;line-height:12px;color:#000;transform:scaleX(0.969);transform-origin:0 50%;">23 Nov 05:00</div>
<div class="t" style="left:1366.8px;top:264.5px;font-size:33.4px;line-height:44px;color:#ed1c24;transform:scaleY(1.06);transform-origin:50% 50%;font-family:'Liberation Sans','Noto Sans CJK SC',sans-serif">多空转折点<span style="font-size:35.2px;letter-spacing:0.3px;margin-left:-1.5px;position:relative;top:-1.6px">4850</span></div>
</body></html>
